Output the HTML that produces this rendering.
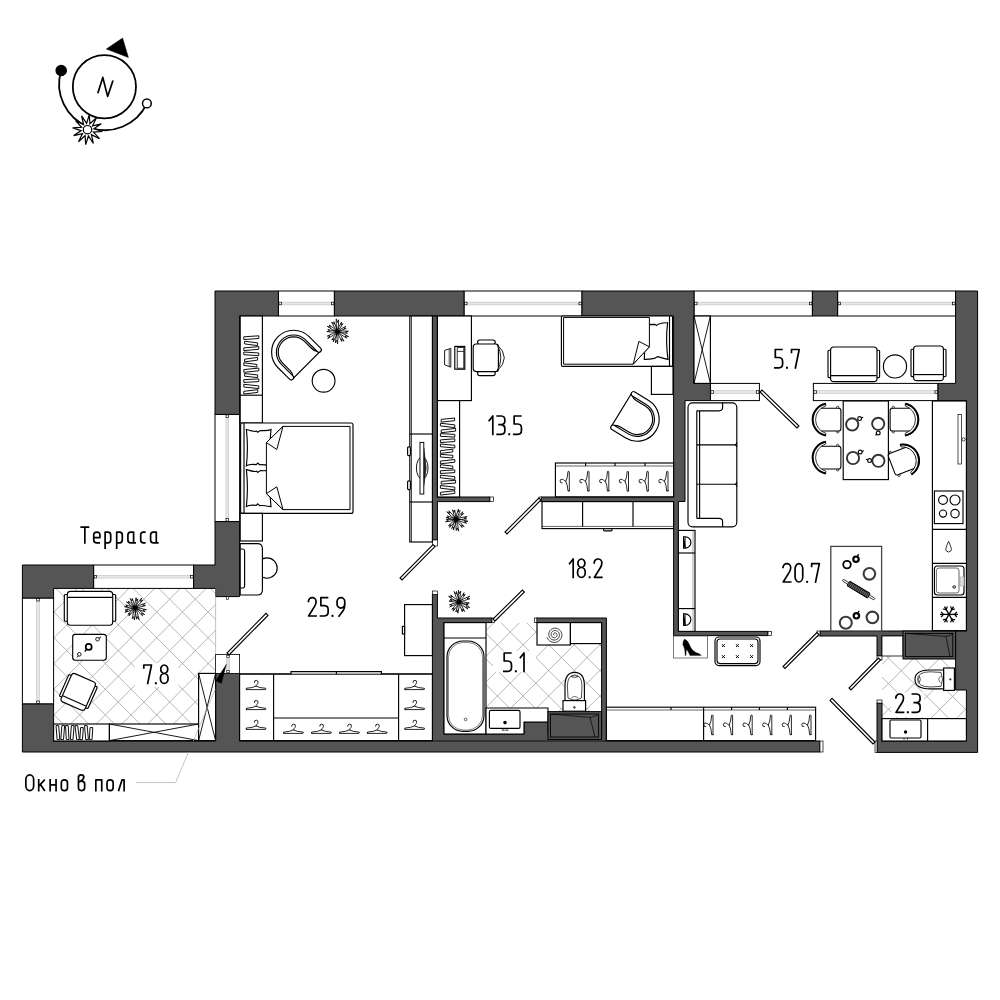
<!DOCTYPE html>
<html><head><meta charset="utf-8"><title>Plan</title>
<style>html,body{margin:0;padding:0;background:#fff;}body{width:1000px;height:1000px;overflow:hidden;}
svg{display:block;font-family:"Liberation Sans",sans-serif;}</style></head><body>
<svg width="1000" height="1000" viewBox="0 0 1000 1000">
<rect width="1000" height="1000" fill="#fff"/>
<clipPath id="t1"><rect x="53.6" y="588.4" width="162.0" height="152.6"/></clipPath>
<g clip-path="url(#t1)" stroke="#969696" stroke-width="0.7">
<line x1="-847.6" y1="588.4" x2="-1000.2" y2="741.0"/>
<line x1="-869.2" y1="588.4" x2="-716.6" y2="741.0"/>
<line x1="-821.9" y1="588.4" x2="-974.5" y2="741.0"/>
<line x1="-843.5" y1="588.4" x2="-690.9" y2="741.0"/>
<line x1="-796.2" y1="588.4" x2="-948.8" y2="741.0"/>
<line x1="-817.8" y1="588.4" x2="-665.2" y2="741.0"/>
<line x1="-770.5" y1="588.4" x2="-923.1" y2="741.0"/>
<line x1="-792.1" y1="588.4" x2="-639.5" y2="741.0"/>
<line x1="-744.8" y1="588.4" x2="-897.4" y2="741.0"/>
<line x1="-766.4" y1="588.4" x2="-613.8" y2="741.0"/>
<line x1="-719.1" y1="588.4" x2="-871.7" y2="741.0"/>
<line x1="-740.7" y1="588.4" x2="-588.1" y2="741.0"/>
<line x1="-693.4" y1="588.4" x2="-846.0" y2="741.0"/>
<line x1="-715.0" y1="588.4" x2="-562.4" y2="741.0"/>
<line x1="-667.7" y1="588.4" x2="-820.3" y2="741.0"/>
<line x1="-689.3" y1="588.4" x2="-536.7" y2="741.0"/>
<line x1="-642.0" y1="588.4" x2="-794.6" y2="741.0"/>
<line x1="-663.6" y1="588.4" x2="-511.0" y2="741.0"/>
<line x1="-616.3" y1="588.4" x2="-768.9" y2="741.0"/>
<line x1="-637.9" y1="588.4" x2="-485.3" y2="741.0"/>
<line x1="-590.6" y1="588.4" x2="-743.2" y2="741.0"/>
<line x1="-612.2" y1="588.4" x2="-459.6" y2="741.0"/>
<line x1="-564.9" y1="588.4" x2="-717.5" y2="741.0"/>
<line x1="-586.5" y1="588.4" x2="-433.9" y2="741.0"/>
<line x1="-539.2" y1="588.4" x2="-691.8" y2="741.0"/>
<line x1="-560.8" y1="588.4" x2="-408.2" y2="741.0"/>
<line x1="-513.5" y1="588.4" x2="-666.1" y2="741.0"/>
<line x1="-535.1" y1="588.4" x2="-382.5" y2="741.0"/>
<line x1="-487.8" y1="588.4" x2="-640.4" y2="741.0"/>
<line x1="-509.4" y1="588.4" x2="-356.8" y2="741.0"/>
<line x1="-462.1" y1="588.4" x2="-614.7" y2="741.0"/>
<line x1="-483.7" y1="588.4" x2="-331.1" y2="741.0"/>
<line x1="-436.4" y1="588.4" x2="-589.0" y2="741.0"/>
<line x1="-458.0" y1="588.4" x2="-305.4" y2="741.0"/>
<line x1="-410.7" y1="588.4" x2="-563.3" y2="741.0"/>
<line x1="-432.3" y1="588.4" x2="-279.7" y2="741.0"/>
<line x1="-385.0" y1="588.4" x2="-537.6" y2="741.0"/>
<line x1="-406.6" y1="588.4" x2="-254.0" y2="741.0"/>
<line x1="-359.3" y1="588.4" x2="-511.9" y2="741.0"/>
<line x1="-380.9" y1="588.4" x2="-228.3" y2="741.0"/>
<line x1="-333.6" y1="588.4" x2="-486.2" y2="741.0"/>
<line x1="-355.2" y1="588.4" x2="-202.6" y2="741.0"/>
<line x1="-307.9" y1="588.4" x2="-460.5" y2="741.0"/>
<line x1="-329.5" y1="588.4" x2="-176.9" y2="741.0"/>
<line x1="-282.2" y1="588.4" x2="-434.8" y2="741.0"/>
<line x1="-303.8" y1="588.4" x2="-151.2" y2="741.0"/>
<line x1="-256.5" y1="588.4" x2="-409.1" y2="741.0"/>
<line x1="-278.1" y1="588.4" x2="-125.5" y2="741.0"/>
<line x1="-230.8" y1="588.4" x2="-383.4" y2="741.0"/>
<line x1="-252.4" y1="588.4" x2="-99.8" y2="741.0"/>
<line x1="-205.1" y1="588.4" x2="-357.7" y2="741.0"/>
<line x1="-226.7" y1="588.4" x2="-74.1" y2="741.0"/>
<line x1="-179.4" y1="588.4" x2="-332.0" y2="741.0"/>
<line x1="-201.0" y1="588.4" x2="-48.4" y2="741.0"/>
<line x1="-153.7" y1="588.4" x2="-306.3" y2="741.0"/>
<line x1="-175.3" y1="588.4" x2="-22.7" y2="741.0"/>
<line x1="-128.0" y1="588.4" x2="-280.6" y2="741.0"/>
<line x1="-149.6" y1="588.4" x2="3.0" y2="741.0"/>
<line x1="-102.3" y1="588.4" x2="-254.9" y2="741.0"/>
<line x1="-123.9" y1="588.4" x2="28.7" y2="741.0"/>
<line x1="-76.6" y1="588.4" x2="-229.2" y2="741.0"/>
<line x1="-98.2" y1="588.4" x2="54.4" y2="741.0"/>
<line x1="-50.9" y1="588.4" x2="-203.5" y2="741.0"/>
<line x1="-72.5" y1="588.4" x2="80.1" y2="741.0"/>
<line x1="-25.2" y1="588.4" x2="-177.8" y2="741.0"/>
<line x1="-46.8" y1="588.4" x2="105.8" y2="741.0"/>
<line x1="0.5" y1="588.4" x2="-152.1" y2="741.0"/>
<line x1="-21.1" y1="588.4" x2="131.5" y2="741.0"/>
<line x1="26.2" y1="588.4" x2="-126.4" y2="741.0"/>
<line x1="4.6" y1="588.4" x2="157.2" y2="741.0"/>
<line x1="51.9" y1="588.4" x2="-100.7" y2="741.0"/>
<line x1="30.3" y1="588.4" x2="182.9" y2="741.0"/>
<line x1="77.6" y1="588.4" x2="-75.0" y2="741.0"/>
<line x1="56.0" y1="588.4" x2="208.6" y2="741.0"/>
<line x1="103.3" y1="588.4" x2="-49.3" y2="741.0"/>
<line x1="81.7" y1="588.4" x2="234.3" y2="741.0"/>
<line x1="129.0" y1="588.4" x2="-23.6" y2="741.0"/>
<line x1="107.4" y1="588.4" x2="260.0" y2="741.0"/>
<line x1="154.7" y1="588.4" x2="2.1" y2="741.0"/>
<line x1="133.1" y1="588.4" x2="285.7" y2="741.0"/>
<line x1="180.4" y1="588.4" x2="27.8" y2="741.0"/>
<line x1="158.8" y1="588.4" x2="311.4" y2="741.0"/>
<line x1="206.1" y1="588.4" x2="53.5" y2="741.0"/>
<line x1="184.5" y1="588.4" x2="337.1" y2="741.0"/>
<line x1="231.8" y1="588.4" x2="79.2" y2="741.0"/>
<line x1="210.2" y1="588.4" x2="362.8" y2="741.0"/>
<line x1="257.5" y1="588.4" x2="104.9" y2="741.0"/>
<line x1="235.9" y1="588.4" x2="388.5" y2="741.0"/>
<line x1="283.2" y1="588.4" x2="130.6" y2="741.0"/>
<line x1="261.6" y1="588.4" x2="414.2" y2="741.0"/>
<line x1="308.9" y1="588.4" x2="156.3" y2="741.0"/>
<line x1="287.3" y1="588.4" x2="439.9" y2="741.0"/>
<line x1="334.6" y1="588.4" x2="182.0" y2="741.0"/>
<line x1="313.0" y1="588.4" x2="465.6" y2="741.0"/>
<line x1="360.3" y1="588.4" x2="207.7" y2="741.0"/>
<line x1="338.7" y1="588.4" x2="491.3" y2="741.0"/>
<line x1="386.0" y1="588.4" x2="233.4" y2="741.0"/>
<line x1="364.4" y1="588.4" x2="517.0" y2="741.0"/>
<line x1="411.7" y1="588.4" x2="259.1" y2="741.0"/>
<line x1="390.1" y1="588.4" x2="542.7" y2="741.0"/>
<line x1="437.4" y1="588.4" x2="284.8" y2="741.0"/>
<line x1="415.8" y1="588.4" x2="568.4" y2="741.0"/>
<line x1="463.1" y1="588.4" x2="310.5" y2="741.0"/>
<line x1="441.5" y1="588.4" x2="594.1" y2="741.0"/>
<line x1="488.8" y1="588.4" x2="336.2" y2="741.0"/>
<line x1="467.2" y1="588.4" x2="619.8" y2="741.0"/>
<line x1="514.5" y1="588.4" x2="361.9" y2="741.0"/>
<line x1="492.9" y1="588.4" x2="645.5" y2="741.0"/>
<line x1="540.2" y1="588.4" x2="387.6" y2="741.0"/>
<line x1="518.6" y1="588.4" x2="671.2" y2="741.0"/>
<line x1="565.9" y1="588.4" x2="413.3" y2="741.0"/>
<line x1="544.3" y1="588.4" x2="696.9" y2="741.0"/>
<line x1="591.6" y1="588.4" x2="439.0" y2="741.0"/>
<line x1="570.0" y1="588.4" x2="722.6" y2="741.0"/>
<line x1="617.3" y1="588.4" x2="464.7" y2="741.0"/>
<line x1="595.7" y1="588.4" x2="748.3" y2="741.0"/>
<line x1="643.0" y1="588.4" x2="490.4" y2="741.0"/>
<line x1="621.4" y1="588.4" x2="774.0" y2="741.0"/>
<line x1="668.7" y1="588.4" x2="516.1" y2="741.0"/>
<line x1="647.1" y1="588.4" x2="799.7" y2="741.0"/>
<line x1="694.4" y1="588.4" x2="541.8" y2="741.0"/>
<line x1="672.8" y1="588.4" x2="825.4" y2="741.0"/>
<line x1="720.1" y1="588.4" x2="567.5" y2="741.0"/>
<line x1="698.5" y1="588.4" x2="851.1" y2="741.0"/>
<line x1="745.8" y1="588.4" x2="593.2" y2="741.0"/>
<line x1="724.2" y1="588.4" x2="876.8" y2="741.0"/>
<line x1="771.5" y1="588.4" x2="618.9" y2="741.0"/>
<line x1="749.9" y1="588.4" x2="902.5" y2="741.0"/>
<line x1="797.2" y1="588.4" x2="644.6" y2="741.0"/>
<line x1="775.6" y1="588.4" x2="928.2" y2="741.0"/>
<line x1="822.9" y1="588.4" x2="670.3" y2="741.0"/>
<line x1="801.3" y1="588.4" x2="953.9" y2="741.0"/>
<line x1="848.6" y1="588.4" x2="696.0" y2="741.0"/>
<line x1="827.0" y1="588.4" x2="979.6" y2="741.0"/>
<line x1="874.3" y1="588.4" x2="721.7" y2="741.0"/>
<line x1="852.7" y1="588.4" x2="1005.3" y2="741.0"/>
<line x1="900.0" y1="588.4" x2="747.4" y2="741.0"/>
<line x1="878.4" y1="588.4" x2="1031.0" y2="741.0"/>
<line x1="925.7" y1="588.4" x2="773.1" y2="741.0"/>
<line x1="904.1" y1="588.4" x2="1056.7" y2="741.0"/>
<line x1="951.4" y1="588.4" x2="798.8" y2="741.0"/>
<line x1="929.8" y1="588.4" x2="1082.4" y2="741.0"/>
<line x1="977.1" y1="588.4" x2="824.5" y2="741.0"/>
<line x1="955.5" y1="588.4" x2="1108.1" y2="741.0"/>
<line x1="1002.8" y1="588.4" x2="850.2" y2="741.0"/>
<line x1="981.2" y1="588.4" x2="1133.8" y2="741.0"/>
<line x1="1028.5" y1="588.4" x2="875.9" y2="741.0"/>
<line x1="1006.9" y1="588.4" x2="1159.5" y2="741.0"/>
<line x1="1054.2" y1="588.4" x2="901.6" y2="741.0"/>
<line x1="1032.6" y1="588.4" x2="1185.2" y2="741.0"/>
<line x1="1079.9" y1="588.4" x2="927.3" y2="741.0"/>
<line x1="1058.3" y1="588.4" x2="1210.9" y2="741.0"/>
<line x1="1105.6" y1="588.4" x2="953.0" y2="741.0"/>
<line x1="1084.0" y1="588.4" x2="1236.6" y2="741.0"/>
<line x1="1131.3" y1="588.4" x2="978.7" y2="741.0"/>
<line x1="1109.7" y1="588.4" x2="1262.3" y2="741.0"/>
<line x1="1157.0" y1="588.4" x2="1004.4" y2="741.0"/>
<line x1="1135.4" y1="588.4" x2="1288.0" y2="741.0"/>
<line x1="1182.7" y1="588.4" x2="1030.1" y2="741.0"/>
<line x1="1161.1" y1="588.4" x2="1313.7" y2="741.0"/>
<rect x="135.0" y="663.0" width="43.0" height="24.0" fill="#fff" stroke="none"/>
</g>
<clipPath id="t2"><rect x="486.0" y="622.6" width="115.6" height="111.4"/></clipPath>
<g clip-path="url(#t2)" stroke="#969696" stroke-width="0.7">
<line x1="-427.6" y1="622.6" x2="-539.0" y2="734.0"/>
<line x1="-497.6" y1="622.6" x2="-386.2" y2="734.0"/>
<line x1="-402.0" y1="622.6" x2="-513.4" y2="734.0"/>
<line x1="-472.0" y1="622.6" x2="-360.6" y2="734.0"/>
<line x1="-376.4" y1="622.6" x2="-487.8" y2="734.0"/>
<line x1="-446.4" y1="622.6" x2="-335.0" y2="734.0"/>
<line x1="-350.8" y1="622.6" x2="-462.2" y2="734.0"/>
<line x1="-420.8" y1="622.6" x2="-309.4" y2="734.0"/>
<line x1="-325.2" y1="622.6" x2="-436.6" y2="734.0"/>
<line x1="-395.2" y1="622.6" x2="-283.8" y2="734.0"/>
<line x1="-299.6" y1="622.6" x2="-411.0" y2="734.0"/>
<line x1="-369.6" y1="622.6" x2="-258.2" y2="734.0"/>
<line x1="-274.0" y1="622.6" x2="-385.4" y2="734.0"/>
<line x1="-344.0" y1="622.6" x2="-232.6" y2="734.0"/>
<line x1="-248.4" y1="622.6" x2="-359.8" y2="734.0"/>
<line x1="-318.4" y1="622.6" x2="-207.0" y2="734.0"/>
<line x1="-222.8" y1="622.6" x2="-334.2" y2="734.0"/>
<line x1="-292.8" y1="622.6" x2="-181.4" y2="734.0"/>
<line x1="-197.2" y1="622.6" x2="-308.6" y2="734.0"/>
<line x1="-267.2" y1="622.6" x2="-155.8" y2="734.0"/>
<line x1="-171.6" y1="622.6" x2="-283.0" y2="734.0"/>
<line x1="-241.6" y1="622.6" x2="-130.2" y2="734.0"/>
<line x1="-146.0" y1="622.6" x2="-257.4" y2="734.0"/>
<line x1="-216.0" y1="622.6" x2="-104.6" y2="734.0"/>
<line x1="-120.4" y1="622.6" x2="-231.8" y2="734.0"/>
<line x1="-190.4" y1="622.6" x2="-79.0" y2="734.0"/>
<line x1="-94.8" y1="622.6" x2="-206.2" y2="734.0"/>
<line x1="-164.8" y1="622.6" x2="-53.4" y2="734.0"/>
<line x1="-69.2" y1="622.6" x2="-180.6" y2="734.0"/>
<line x1="-139.2" y1="622.6" x2="-27.8" y2="734.0"/>
<line x1="-43.6" y1="622.6" x2="-155.0" y2="734.0"/>
<line x1="-113.6" y1="622.6" x2="-2.2" y2="734.0"/>
<line x1="-18.0" y1="622.6" x2="-129.4" y2="734.0"/>
<line x1="-88.0" y1="622.6" x2="23.4" y2="734.0"/>
<line x1="7.6" y1="622.6" x2="-103.8" y2="734.0"/>
<line x1="-62.4" y1="622.6" x2="49.0" y2="734.0"/>
<line x1="33.2" y1="622.6" x2="-78.2" y2="734.0"/>
<line x1="-36.8" y1="622.6" x2="74.6" y2="734.0"/>
<line x1="58.8" y1="622.6" x2="-52.6" y2="734.0"/>
<line x1="-11.2" y1="622.6" x2="100.2" y2="734.0"/>
<line x1="84.4" y1="622.6" x2="-27.0" y2="734.0"/>
<line x1="14.4" y1="622.6" x2="125.8" y2="734.0"/>
<line x1="110.0" y1="622.6" x2="-1.4" y2="734.0"/>
<line x1="40.0" y1="622.6" x2="151.4" y2="734.0"/>
<line x1="135.6" y1="622.6" x2="24.2" y2="734.0"/>
<line x1="65.6" y1="622.6" x2="177.0" y2="734.0"/>
<line x1="161.2" y1="622.6" x2="49.8" y2="734.0"/>
<line x1="91.2" y1="622.6" x2="202.6" y2="734.0"/>
<line x1="186.8" y1="622.6" x2="75.4" y2="734.0"/>
<line x1="116.8" y1="622.6" x2="228.2" y2="734.0"/>
<line x1="212.4" y1="622.6" x2="101.0" y2="734.0"/>
<line x1="142.4" y1="622.6" x2="253.8" y2="734.0"/>
<line x1="238.0" y1="622.6" x2="126.6" y2="734.0"/>
<line x1="168.0" y1="622.6" x2="279.4" y2="734.0"/>
<line x1="263.6" y1="622.6" x2="152.2" y2="734.0"/>
<line x1="193.6" y1="622.6" x2="305.0" y2="734.0"/>
<line x1="289.2" y1="622.6" x2="177.8" y2="734.0"/>
<line x1="219.2" y1="622.6" x2="330.6" y2="734.0"/>
<line x1="314.8" y1="622.6" x2="203.4" y2="734.0"/>
<line x1="244.8" y1="622.6" x2="356.2" y2="734.0"/>
<line x1="340.4" y1="622.6" x2="229.0" y2="734.0"/>
<line x1="270.4" y1="622.6" x2="381.8" y2="734.0"/>
<line x1="366.0" y1="622.6" x2="254.6" y2="734.0"/>
<line x1="296.0" y1="622.6" x2="407.4" y2="734.0"/>
<line x1="391.6" y1="622.6" x2="280.2" y2="734.0"/>
<line x1="321.6" y1="622.6" x2="433.0" y2="734.0"/>
<line x1="417.2" y1="622.6" x2="305.8" y2="734.0"/>
<line x1="347.2" y1="622.6" x2="458.6" y2="734.0"/>
<line x1="442.8" y1="622.6" x2="331.4" y2="734.0"/>
<line x1="372.8" y1="622.6" x2="484.2" y2="734.0"/>
<line x1="468.4" y1="622.6" x2="357.0" y2="734.0"/>
<line x1="398.4" y1="622.6" x2="509.8" y2="734.0"/>
<line x1="494.0" y1="622.6" x2="382.6" y2="734.0"/>
<line x1="424.0" y1="622.6" x2="535.4" y2="734.0"/>
<line x1="519.6" y1="622.6" x2="408.2" y2="734.0"/>
<line x1="449.6" y1="622.6" x2="561.0" y2="734.0"/>
<line x1="545.2" y1="622.6" x2="433.8" y2="734.0"/>
<line x1="475.2" y1="622.6" x2="586.6" y2="734.0"/>
<line x1="570.8" y1="622.6" x2="459.4" y2="734.0"/>
<line x1="500.8" y1="622.6" x2="612.2" y2="734.0"/>
<line x1="596.4" y1="622.6" x2="485.0" y2="734.0"/>
<line x1="526.4" y1="622.6" x2="637.8" y2="734.0"/>
<line x1="622.0" y1="622.6" x2="510.6" y2="734.0"/>
<line x1="552.0" y1="622.6" x2="663.4" y2="734.0"/>
<line x1="647.6" y1="622.6" x2="536.2" y2="734.0"/>
<line x1="577.6" y1="622.6" x2="689.0" y2="734.0"/>
<line x1="673.2" y1="622.6" x2="561.8" y2="734.0"/>
<line x1="603.2" y1="622.6" x2="714.6" y2="734.0"/>
<line x1="698.8" y1="622.6" x2="587.4" y2="734.0"/>
<line x1="628.8" y1="622.6" x2="740.2" y2="734.0"/>
<line x1="724.4" y1="622.6" x2="613.0" y2="734.0"/>
<line x1="654.4" y1="622.6" x2="765.8" y2="734.0"/>
<line x1="750.0" y1="622.6" x2="638.6" y2="734.0"/>
<line x1="680.0" y1="622.6" x2="791.4" y2="734.0"/>
<line x1="775.6" y1="622.6" x2="664.2" y2="734.0"/>
<line x1="705.6" y1="622.6" x2="817.0" y2="734.0"/>
<line x1="801.2" y1="622.6" x2="689.8" y2="734.0"/>
<line x1="731.2" y1="622.6" x2="842.6" y2="734.0"/>
<line x1="826.8" y1="622.6" x2="715.4" y2="734.0"/>
<line x1="756.8" y1="622.6" x2="868.2" y2="734.0"/>
<line x1="852.4" y1="622.6" x2="741.0" y2="734.0"/>
<line x1="782.4" y1="622.6" x2="893.8" y2="734.0"/>
<line x1="878.0" y1="622.6" x2="766.6" y2="734.0"/>
<line x1="808.0" y1="622.6" x2="919.4" y2="734.0"/>
<line x1="903.6" y1="622.6" x2="792.2" y2="734.0"/>
<line x1="833.6" y1="622.6" x2="945.0" y2="734.0"/>
<line x1="929.2" y1="622.6" x2="817.8" y2="734.0"/>
<line x1="859.2" y1="622.6" x2="970.6" y2="734.0"/>
<line x1="954.8" y1="622.6" x2="843.4" y2="734.0"/>
<line x1="884.8" y1="622.6" x2="996.2" y2="734.0"/>
<line x1="980.4" y1="622.6" x2="869.0" y2="734.0"/>
<line x1="910.4" y1="622.6" x2="1021.8" y2="734.0"/>
<line x1="1006.0" y1="622.6" x2="894.6" y2="734.0"/>
<line x1="936.0" y1="622.6" x2="1047.4" y2="734.0"/>
<line x1="1031.6" y1="622.6" x2="920.2" y2="734.0"/>
<line x1="961.6" y1="622.6" x2="1073.0" y2="734.0"/>
<line x1="1057.2" y1="622.6" x2="945.8" y2="734.0"/>
<line x1="987.2" y1="622.6" x2="1098.6" y2="734.0"/>
<line x1="1082.8" y1="622.6" x2="971.4" y2="734.0"/>
<line x1="1012.8" y1="622.6" x2="1124.2" y2="734.0"/>
<line x1="1108.4" y1="622.6" x2="997.0" y2="734.0"/>
<line x1="1038.4" y1="622.6" x2="1149.8" y2="734.0"/>
<line x1="1134.0" y1="622.6" x2="1022.6" y2="734.0"/>
<line x1="1064.0" y1="622.6" x2="1175.4" y2="734.0"/>
<line x1="1159.6" y1="622.6" x2="1048.2" y2="734.0"/>
<line x1="1089.6" y1="622.6" x2="1201.0" y2="734.0"/>
<line x1="1185.2" y1="622.6" x2="1073.8" y2="734.0"/>
<line x1="1115.2" y1="622.6" x2="1226.6" y2="734.0"/>
<line x1="1210.8" y1="622.6" x2="1099.4" y2="734.0"/>
<line x1="1140.8" y1="622.6" x2="1252.2" y2="734.0"/>
<line x1="1236.4" y1="622.6" x2="1125.0" y2="734.0"/>
<line x1="1166.4" y1="622.6" x2="1277.8" y2="734.0"/>
<line x1="1262.0" y1="622.6" x2="1150.6" y2="734.0"/>
<line x1="1192.0" y1="622.6" x2="1303.4" y2="734.0"/>
<line x1="1287.6" y1="622.6" x2="1176.2" y2="734.0"/>
<line x1="1217.6" y1="622.6" x2="1329.0" y2="734.0"/>
<line x1="1313.2" y1="622.6" x2="1201.8" y2="734.0"/>
<line x1="1243.2" y1="622.6" x2="1354.6" y2="734.0"/>
<line x1="1338.8" y1="622.6" x2="1227.4" y2="734.0"/>
<line x1="1268.8" y1="622.6" x2="1380.2" y2="734.0"/>
<line x1="1364.4" y1="622.6" x2="1253.0" y2="734.0"/>
<line x1="1294.4" y1="622.6" x2="1405.8" y2="734.0"/>
<line x1="1390.0" y1="622.6" x2="1278.6" y2="734.0"/>
<line x1="1320.0" y1="622.6" x2="1431.4" y2="734.0"/>
<line x1="1415.6" y1="622.6" x2="1304.2" y2="734.0"/>
<line x1="1345.6" y1="622.6" x2="1457.0" y2="734.0"/>
<line x1="1441.2" y1="622.6" x2="1329.8" y2="734.0"/>
<line x1="1371.2" y1="622.6" x2="1482.6" y2="734.0"/>
<line x1="1466.8" y1="622.6" x2="1355.4" y2="734.0"/>
<line x1="1396.8" y1="622.6" x2="1508.2" y2="734.0"/>
<line x1="1492.4" y1="622.6" x2="1381.0" y2="734.0"/>
<line x1="1422.4" y1="622.6" x2="1533.8" y2="734.0"/>
<line x1="1518.0" y1="622.6" x2="1406.6" y2="734.0"/>
<line x1="1448.0" y1="622.6" x2="1559.4" y2="734.0"/>
<line x1="1543.6" y1="622.6" x2="1432.2" y2="734.0"/>
<line x1="1473.6" y1="622.6" x2="1585.0" y2="734.0"/>
<line x1="1569.2" y1="622.6" x2="1457.8" y2="734.0"/>
<line x1="1499.2" y1="622.6" x2="1610.6" y2="734.0"/>
<line x1="1594.8" y1="622.6" x2="1483.4" y2="734.0"/>
<line x1="1524.8" y1="622.6" x2="1636.2" y2="734.0"/>
<rect x="493.0" y="651.0" width="43.0" height="21.0" fill="#fff" stroke="none"/>
</g>
<clipPath id="t3"><rect x="882.0" y="636.0" width="84.4" height="105.0"/></clipPath>
<g clip-path="url(#t3)" stroke="#969696" stroke-width="0.7">
<line x1="-90.7" y1="636.0" x2="-195.7" y2="741.0"/>
<line x1="-160.3" y1="636.0" x2="-55.3" y2="741.0"/>
<line x1="-65.0" y1="636.0" x2="-170.0" y2="741.0"/>
<line x1="-134.6" y1="636.0" x2="-29.6" y2="741.0"/>
<line x1="-39.4" y1="636.0" x2="-144.4" y2="741.0"/>
<line x1="-109.0" y1="636.0" x2="-4.0" y2="741.0"/>
<line x1="-13.7" y1="636.0" x2="-118.7" y2="741.0"/>
<line x1="-83.3" y1="636.0" x2="21.7" y2="741.0"/>
<line x1="12.0" y1="636.0" x2="-93.0" y2="741.0"/>
<line x1="-57.6" y1="636.0" x2="47.4" y2="741.0"/>
<line x1="37.6" y1="636.0" x2="-67.4" y2="741.0"/>
<line x1="-32.0" y1="636.0" x2="73.0" y2="741.0"/>
<line x1="63.3" y1="636.0" x2="-41.7" y2="741.0"/>
<line x1="-6.3" y1="636.0" x2="98.7" y2="741.0"/>
<line x1="89.0" y1="636.0" x2="-16.0" y2="741.0"/>
<line x1="19.4" y1="636.0" x2="124.4" y2="741.0"/>
<line x1="114.7" y1="636.0" x2="9.7" y2="741.0"/>
<line x1="45.1" y1="636.0" x2="150.1" y2="741.0"/>
<line x1="140.3" y1="636.0" x2="35.3" y2="741.0"/>
<line x1="70.7" y1="636.0" x2="175.7" y2="741.0"/>
<line x1="166.0" y1="636.0" x2="61.0" y2="741.0"/>
<line x1="96.4" y1="636.0" x2="201.4" y2="741.0"/>
<line x1="191.7" y1="636.0" x2="86.7" y2="741.0"/>
<line x1="122.1" y1="636.0" x2="227.1" y2="741.0"/>
<line x1="217.3" y1="636.0" x2="112.3" y2="741.0"/>
<line x1="147.7" y1="636.0" x2="252.7" y2="741.0"/>
<line x1="243.0" y1="636.0" x2="138.0" y2="741.0"/>
<line x1="173.4" y1="636.0" x2="278.4" y2="741.0"/>
<line x1="268.7" y1="636.0" x2="163.7" y2="741.0"/>
<line x1="199.1" y1="636.0" x2="304.1" y2="741.0"/>
<line x1="294.3" y1="636.0" x2="189.3" y2="741.0"/>
<line x1="224.8" y1="636.0" x2="329.8" y2="741.0"/>
<line x1="320.0" y1="636.0" x2="215.0" y2="741.0"/>
<line x1="250.4" y1="636.0" x2="355.4" y2="741.0"/>
<line x1="345.7" y1="636.0" x2="240.7" y2="741.0"/>
<line x1="276.1" y1="636.0" x2="381.1" y2="741.0"/>
<line x1="371.4" y1="636.0" x2="266.4" y2="741.0"/>
<line x1="301.8" y1="636.0" x2="406.8" y2="741.0"/>
<line x1="397.0" y1="636.0" x2="292.0" y2="741.0"/>
<line x1="327.4" y1="636.0" x2="432.4" y2="741.0"/>
<line x1="422.7" y1="636.0" x2="317.7" y2="741.0"/>
<line x1="353.1" y1="636.0" x2="458.1" y2="741.0"/>
<line x1="448.4" y1="636.0" x2="343.4" y2="741.0"/>
<line x1="378.8" y1="636.0" x2="483.8" y2="741.0"/>
<line x1="474.0" y1="636.0" x2="369.0" y2="741.0"/>
<line x1="404.4" y1="636.0" x2="509.4" y2="741.0"/>
<line x1="499.7" y1="636.0" x2="394.7" y2="741.0"/>
<line x1="430.1" y1="636.0" x2="535.1" y2="741.0"/>
<line x1="525.4" y1="636.0" x2="420.4" y2="741.0"/>
<line x1="455.8" y1="636.0" x2="560.8" y2="741.0"/>
<line x1="551.0" y1="636.0" x2="446.0" y2="741.0"/>
<line x1="481.4" y1="636.0" x2="586.5" y2="741.0"/>
<line x1="576.7" y1="636.0" x2="471.7" y2="741.0"/>
<line x1="507.1" y1="636.0" x2="612.1" y2="741.0"/>
<line x1="602.4" y1="636.0" x2="497.4" y2="741.0"/>
<line x1="532.8" y1="636.0" x2="637.8" y2="741.0"/>
<line x1="628.1" y1="636.0" x2="523.1" y2="741.0"/>
<line x1="558.5" y1="636.0" x2="663.5" y2="741.0"/>
<line x1="653.7" y1="636.0" x2="548.7" y2="741.0"/>
<line x1="584.1" y1="636.0" x2="689.1" y2="741.0"/>
<line x1="679.4" y1="636.0" x2="574.4" y2="741.0"/>
<line x1="609.8" y1="636.0" x2="714.8" y2="741.0"/>
<line x1="705.1" y1="636.0" x2="600.1" y2="741.0"/>
<line x1="635.5" y1="636.0" x2="740.5" y2="741.0"/>
<line x1="730.7" y1="636.0" x2="625.7" y2="741.0"/>
<line x1="661.1" y1="636.0" x2="766.1" y2="741.0"/>
<line x1="756.4" y1="636.0" x2="651.4" y2="741.0"/>
<line x1="686.8" y1="636.0" x2="791.8" y2="741.0"/>
<line x1="782.1" y1="636.0" x2="677.1" y2="741.0"/>
<line x1="712.5" y1="636.0" x2="817.5" y2="741.0"/>
<line x1="807.8" y1="636.0" x2="702.8" y2="741.0"/>
<line x1="738.1" y1="636.0" x2="843.1" y2="741.0"/>
<line x1="833.4" y1="636.0" x2="728.4" y2="741.0"/>
<line x1="763.8" y1="636.0" x2="868.8" y2="741.0"/>
<line x1="859.1" y1="636.0" x2="754.1" y2="741.0"/>
<line x1="789.5" y1="636.0" x2="894.5" y2="741.0"/>
<line x1="884.8" y1="636.0" x2="779.8" y2="741.0"/>
<line x1="815.2" y1="636.0" x2="920.2" y2="741.0"/>
<line x1="910.4" y1="636.0" x2="805.4" y2="741.0"/>
<line x1="840.8" y1="636.0" x2="945.8" y2="741.0"/>
<line x1="936.1" y1="636.0" x2="831.1" y2="741.0"/>
<line x1="866.5" y1="636.0" x2="971.5" y2="741.0"/>
<line x1="961.8" y1="636.0" x2="856.8" y2="741.0"/>
<line x1="892.2" y1="636.0" x2="997.2" y2="741.0"/>
<line x1="987.4" y1="636.0" x2="882.4" y2="741.0"/>
<line x1="917.8" y1="636.0" x2="1022.8" y2="741.0"/>
<line x1="1013.1" y1="636.0" x2="908.1" y2="741.0"/>
<line x1="943.5" y1="636.0" x2="1048.5" y2="741.0"/>
<line x1="1038.8" y1="636.0" x2="933.8" y2="741.0"/>
<line x1="969.2" y1="636.0" x2="1074.2" y2="741.0"/>
<line x1="1064.4" y1="636.0" x2="959.4" y2="741.0"/>
<line x1="994.9" y1="636.0" x2="1099.8" y2="741.0"/>
<line x1="1090.1" y1="636.0" x2="985.1" y2="741.0"/>
<line x1="1020.5" y1="636.0" x2="1125.5" y2="741.0"/>
<line x1="1115.8" y1="636.0" x2="1010.8" y2="741.0"/>
<line x1="1046.2" y1="636.0" x2="1151.2" y2="741.0"/>
<line x1="1141.5" y1="636.0" x2="1036.5" y2="741.0"/>
<line x1="1071.9" y1="636.0" x2="1176.9" y2="741.0"/>
<line x1="1167.1" y1="636.0" x2="1062.1" y2="741.0"/>
<line x1="1097.5" y1="636.0" x2="1202.5" y2="741.0"/>
<line x1="1192.8" y1="636.0" x2="1087.8" y2="741.0"/>
<line x1="1123.2" y1="636.0" x2="1228.2" y2="741.0"/>
<line x1="1218.5" y1="636.0" x2="1113.5" y2="741.0"/>
<line x1="1148.9" y1="636.0" x2="1253.9" y2="741.0"/>
<line x1="1244.1" y1="636.0" x2="1139.1" y2="741.0"/>
<line x1="1174.5" y1="636.0" x2="1279.5" y2="741.0"/>
<line x1="1269.8" y1="636.0" x2="1164.8" y2="741.0"/>
<line x1="1200.2" y1="636.0" x2="1305.2" y2="741.0"/>
<line x1="1295.5" y1="636.0" x2="1190.5" y2="741.0"/>
<line x1="1225.9" y1="636.0" x2="1330.9" y2="741.0"/>
<line x1="1321.1" y1="636.0" x2="1216.1" y2="741.0"/>
<line x1="1251.5" y1="636.0" x2="1356.5" y2="741.0"/>
<line x1="1346.8" y1="636.0" x2="1241.8" y2="741.0"/>
<line x1="1277.2" y1="636.0" x2="1382.2" y2="741.0"/>
<line x1="1372.5" y1="636.0" x2="1267.5" y2="741.0"/>
<line x1="1302.9" y1="636.0" x2="1407.9" y2="741.0"/>
<line x1="1398.2" y1="636.0" x2="1293.2" y2="741.0"/>
<line x1="1328.6" y1="636.0" x2="1433.6" y2="741.0"/>
<line x1="1423.8" y1="636.0" x2="1318.8" y2="741.0"/>
<line x1="1354.2" y1="636.0" x2="1459.2" y2="741.0"/>
<line x1="1449.5" y1="636.0" x2="1344.5" y2="741.0"/>
<line x1="1379.9" y1="636.0" x2="1484.9" y2="741.0"/>
<line x1="1475.2" y1="636.0" x2="1370.2" y2="741.0"/>
<line x1="1405.6" y1="636.0" x2="1510.6" y2="741.0"/>
<line x1="1500.8" y1="636.0" x2="1395.8" y2="741.0"/>
<line x1="1431.2" y1="636.0" x2="1536.2" y2="741.0"/>
<line x1="1526.5" y1="636.0" x2="1421.5" y2="741.0"/>
<line x1="1456.9" y1="636.0" x2="1561.9" y2="741.0"/>
<line x1="1552.2" y1="636.0" x2="1447.2" y2="741.0"/>
<line x1="1482.6" y1="636.0" x2="1587.6" y2="741.0"/>
<line x1="1577.8" y1="636.0" x2="1472.8" y2="741.0"/>
<line x1="1508.2" y1="636.0" x2="1613.2" y2="741.0"/>
<line x1="1603.5" y1="636.0" x2="1498.5" y2="741.0"/>
<line x1="1533.9" y1="636.0" x2="1638.9" y2="741.0"/>
<line x1="1629.2" y1="636.0" x2="1524.2" y2="741.0"/>
<line x1="1559.6" y1="636.0" x2="1664.6" y2="741.0"/>
<line x1="1654.9" y1="636.0" x2="1549.9" y2="741.0"/>
<line x1="1585.3" y1="636.0" x2="1690.3" y2="741.0"/>
<line x1="1680.5" y1="636.0" x2="1575.5" y2="741.0"/>
<line x1="1610.9" y1="636.0" x2="1715.9" y2="741.0"/>
<line x1="1706.2" y1="636.0" x2="1601.2" y2="741.0"/>
<line x1="1636.6" y1="636.0" x2="1741.6" y2="741.0"/>
<line x1="1731.9" y1="636.0" x2="1626.9" y2="741.0"/>
<line x1="1662.3" y1="636.0" x2="1767.3" y2="741.0"/>
<line x1="1757.5" y1="636.0" x2="1652.5" y2="741.0"/>
<line x1="1687.9" y1="636.0" x2="1792.9" y2="741.0"/>
<line x1="1783.2" y1="636.0" x2="1678.2" y2="741.0"/>
<line x1="1713.6" y1="636.0" x2="1818.6" y2="741.0"/>
<line x1="1808.9" y1="636.0" x2="1703.9" y2="741.0"/>
<line x1="1739.3" y1="636.0" x2="1844.3" y2="741.0"/>
<line x1="1834.6" y1="636.0" x2="1729.6" y2="741.0"/>
<line x1="1765.0" y1="636.0" x2="1870.0" y2="741.0"/>
<line x1="1860.2" y1="636.0" x2="1755.2" y2="741.0"/>
<line x1="1790.6" y1="636.0" x2="1895.6" y2="741.0"/>
<line x1="1885.9" y1="636.0" x2="1780.9" y2="741.0"/>
<line x1="1816.3" y1="636.0" x2="1921.3" y2="741.0"/>
<line x1="1911.6" y1="636.0" x2="1806.6" y2="741.0"/>
<line x1="1842.0" y1="636.0" x2="1947.0" y2="741.0"/>
<line x1="1937.2" y1="636.0" x2="1832.2" y2="741.0"/>
<line x1="1867.6" y1="636.0" x2="1972.6" y2="741.0"/>
<rect x="891.0" y="692.5" width="33.0" height="24.5" fill="#fff" stroke="none"/>
</g>
<rect x="278.4" y="291.0" width="56.0" height="25.0" rx="0" fill="#fff" stroke="#000" stroke-width="1.0" />
<rect x="281.4" y="302.1" width="50.0" height="2.8" rx="0" fill="#e6e6e6" stroke="#c4c4c4" stroke-width="0.6" />
<rect x="278.9" y="302.2" width="2.5" height="2.6" rx="0" fill="#fff" stroke="#000" stroke-width="0.7" />
<rect x="331.4" y="302.2" width="2.5" height="2.6" rx="0" fill="#fff" stroke="#000" stroke-width="0.7" />
<rect x="464.0" y="291.0" width="118.0" height="25.0" rx="0" fill="#fff" stroke="#000" stroke-width="1.0" />
<rect x="467.0" y="302.1" width="112.0" height="2.8" rx="0" fill="#e6e6e6" stroke="#c4c4c4" stroke-width="0.6" />
<rect x="464.5" y="302.2" width="2.5" height="2.6" rx="0" fill="#fff" stroke="#000" stroke-width="0.7" />
<rect x="579.0" y="302.2" width="2.5" height="2.6" rx="0" fill="#fff" stroke="#000" stroke-width="0.7" />
<rect x="694.0" y="291.0" width="118.4" height="25.0" rx="0" fill="#fff" stroke="#000" stroke-width="1.0" />
<rect x="697.0" y="302.1" width="112.4" height="2.8" rx="0" fill="#e6e6e6" stroke="#c4c4c4" stroke-width="0.6" />
<rect x="694.5" y="302.2" width="2.5" height="2.6" rx="0" fill="#fff" stroke="#000" stroke-width="0.7" />
<rect x="809.4" y="302.2" width="2.5" height="2.6" rx="0" fill="#fff" stroke="#000" stroke-width="0.7" />
<rect x="837.6" y="291.0" width="118.0" height="25.0" rx="0" fill="#fff" stroke="#000" stroke-width="1.0" />
<rect x="840.6" y="302.1" width="112.0" height="2.8" rx="0" fill="#e6e6e6" stroke="#c4c4c4" stroke-width="0.6" />
<rect x="838.1" y="302.2" width="2.5" height="2.6" rx="0" fill="#fff" stroke="#000" stroke-width="0.7" />
<rect x="952.6" y="302.2" width="2.5" height="2.6" rx="0" fill="#fff" stroke="#000" stroke-width="0.7" />
<rect x="215.0" y="414.4" width="24.6" height="107.2" rx="0" fill="#fff" stroke="#000" stroke-width="1.0" />
<rect x="225.9" y="417.4" width="2.8" height="101.2" rx="0" fill="#e6e6e6" stroke="#c4c4c4" stroke-width="0.6" />
<rect x="226.0" y="414.9" width="2.6" height="2.5" rx="0" fill="#fff" stroke="#000" stroke-width="0.7" />
<rect x="226.0" y="518.6" width="2.6" height="2.5" rx="0" fill="#fff" stroke="#000" stroke-width="0.7" />
<rect x="93.6" y="565.0" width="100.0" height="23.4" rx="0" fill="#fff" stroke="#000" stroke-width="1.0" />
<rect x="96.6" y="575.3" width="94.0" height="2.8" rx="0" fill="#e6e6e6" stroke="#c4c4c4" stroke-width="0.6" />
<rect x="94.1" y="575.4" width="2.5" height="2.6" rx="0" fill="#fff" stroke="#000" stroke-width="0.7" />
<rect x="190.6" y="575.4" width="2.5" height="2.6" rx="0" fill="#fff" stroke="#000" stroke-width="0.7" />
<rect x="22.4" y="598.0" width="31.2" height="106.0" rx="0" fill="#fff" stroke="#000" stroke-width="1.0" />
<rect x="36.6" y="601.0" width="2.8" height="100.0" rx="0" fill="#e6e6e6" stroke="#c4c4c4" stroke-width="0.6" />
<rect x="36.7" y="598.5" width="2.6" height="2.5" rx="0" fill="#fff" stroke="#000" stroke-width="0.7" />
<rect x="36.7" y="701.0" width="2.6" height="2.5" rx="0" fill="#fff" stroke="#000" stroke-width="0.7" />
<rect x="710.4" y="383.4" width="49.0" height="17.2" rx="0" fill="#fff" stroke="#000" stroke-width="1.0" />
<rect x="713.4" y="390.6" width="43.0" height="2.8" rx="0" fill="#e6e6e6" stroke="#c4c4c4" stroke-width="0.6" />
<rect x="710.9" y="390.7" width="2.5" height="2.6" rx="0" fill="#fff" stroke="#000" stroke-width="0.7" />
<rect x="756.4" y="390.7" width="2.5" height="2.6" rx="0" fill="#fff" stroke="#000" stroke-width="0.7" />
<rect x="813.4" y="383.4" width="124.6" height="17.2" rx="0" fill="#fff" stroke="#000" stroke-width="1.0" />
<rect x="816.4" y="390.6" width="118.6" height="2.8" rx="0" fill="#e6e6e6" stroke="#c4c4c4" stroke-width="0.6" />
<rect x="813.9" y="390.7" width="2.5" height="2.6" rx="0" fill="#fff" stroke="#000" stroke-width="0.7" />
<rect x="935.0" y="390.7" width="2.5" height="2.6" rx="0" fill="#fff" stroke="#000" stroke-width="0.7" />
<polygon points="215.0,291.0 278.4,291.0 278.4,316.0 239.6,316.0 239.6,414.4 215.0,414.4" fill="#555" stroke="#000" stroke-width="1" />
<polygon points="334.4,291.0 464.0,291.0 464.0,316.0 334.4,316.0" fill="#555" stroke="#000" stroke-width="1" />
<polygon points="582.0,291.0 694.0,291.0 694.0,383.4 710.4,383.4 710.4,400.6 685.0,400.6 685.0,501.5 678.4,501.5 678.4,631.4 768.0,631.4 768.0,635.6 673.6,635.6 673.6,501.6 541.0,501.6 541.0,497.0 673.6,497.0 673.6,316.0 582.0,316.0" fill="#555" stroke="#000" stroke-width="1" />
<rect x="768.0" y="631.4" width="3.6" height="4.2" rx="0" fill="#fff" stroke="#000" stroke-width="0.7" />
<rect x="539.0" y="497.0" width="2.4" height="4.6" rx="0" fill="#fff" stroke="#000" stroke-width="0.7" />
<polygon points="812.4,291.0 837.6,291.0 837.6,316.0 812.4,316.0" fill="#555" stroke="#000" stroke-width="1" />
<polygon points="955.6,291.0 977.6,291.0 977.6,752.4 877.0,752.4 877.0,703.0 882.0,703.0 882.0,741.0 966.4,741.0 966.4,690.0 955.6,690.0 955.6,636.0 882.0,636.0 882.0,656.0 877.0,656.0 877.0,636.0 820.0,636.0 820.0,631.0 966.4,631.0 966.4,400.6 938.0,400.6 938.0,383.4 955.6,383.4" fill="#555" stroke="#000" stroke-width="1" />
<rect x="817.0" y="631.0" width="3.0" height="5.0" rx="0" fill="#fff" stroke="#000" stroke-width="0.7" />
<rect x="877.0" y="656.0" width="5.0" height="4.0" rx="0" fill="#fff" stroke="#000" stroke-width="0.7" />
<rect x="877.0" y="700.0" width="5.0" height="3.0" rx="0" fill="#fff" stroke="#000" stroke-width="0.7" />
<rect x="875.0" y="741.0" width="2.0" height="11.4" rx="0" fill="#fff" stroke="#000" stroke-width="0.7" />
<polygon points="432.4,316.0 437.4,316.0 437.4,497.0 490.0,497.0 490.0,501.6 437.4,501.6 437.4,540.0 432.4,540.0" fill="#555" stroke="#000" stroke-width="1" />
<rect x="490.0" y="497.0" width="3.6" height="4.6" rx="0" fill="#fff" stroke="#000" stroke-width="0.7" />
<rect x="432.4" y="540.0" width="5.0" height="6.0" rx="0" fill="#fff" stroke="#000" stroke-width="0.7" />
<polygon points="22.4,565.0 93.6,565.0 93.6,588.4 53.6,588.4 53.6,598.0 22.4,598.0" fill="#555" stroke="#000" stroke-width="1" />
<polygon points="215.0,521.6 239.6,521.6 239.6,596.6 215.6,596.6 215.6,588.4 193.6,588.4 193.6,565.0 215.0,565.0" fill="#555" stroke="#000" stroke-width="1" />
<polygon points="22.4,704.0 53.6,704.0 53.6,741.0 215.6,741.0 215.6,673.4 239.6,673.4 239.6,741.0 432.4,741.0 432.4,594.0 437.4,594.0 437.4,618.0 492.0,618.0 492.0,622.6 444.0,622.6 444.0,734.0 524.0,734.0 524.0,722.0 548.0,722.0 548.0,734.0 601.6,734.0 601.6,622.6 536.4,622.6 536.4,618.0 606.4,618.0 606.4,741.0 820.0,741.0 820.0,752.0 22.4,752.0" fill="#555" stroke="#000" stroke-width="1" />
<rect x="820.0" y="741.0" width="3.0" height="11.0" rx="0" fill="#fff" stroke="#000" stroke-width="0.7" />
<rect x="432.4" y="591.0" width="5.0" height="3.4" rx="0" fill="#fff" stroke="#000" stroke-width="0.7" />
<rect x="492.0" y="618.0" width="2.4" height="4.6" rx="0" fill="#fff" stroke="#000" stroke-width="0.7" />
<rect x="534.4" y="618.0" width="2.4" height="4.6" rx="0" fill="#fff" stroke="#000" stroke-width="0.7" />
<line x1="432.4" y1="741.0" x2="606.4" y2="741.0" stroke="#000" stroke-width="0.8" />
<line x1="215.6" y1="588.4" x2="215.6" y2="654.6" stroke="#999" stroke-width="0.6" />
<rect x="215.6" y="654.6" width="24.0" height="18.8" rx="0" fill="#fff" stroke="#000" stroke-width="0.8" />
<rect x="226.8" y="657.0" width="2.4" height="15.0" rx="0" fill="#e4e4e4" stroke="#aaa" stroke-width="0.6" />
<rect x="226.8" y="655.4" width="2.4" height="2.2" rx="0" fill="#fff" stroke="#000" stroke-width="0.6" />
<rect x="226.8" y="670.6" width="2.4" height="2.2" rx="0" fill="#fff" stroke="#000" stroke-width="0.6" />
<rect x="240.2" y="316.0" width="22.2" height="107.0" rx="0" fill="#fff" stroke="#000" stroke-width="1.15" />
<line x1="240.2" y1="395.2" x2="262.4" y2="395.2" stroke="#000" stroke-width="1.15" />
<polygon points="243.8,336.8 258.8,335.8 258.8,338.5 243.8,339.5" fill="#fff" stroke="#000" stroke-width="0.95" />
<polygon points="244.6,341.2 257.6,342.9 257.6,345.6 244.6,343.9" fill="#fff" stroke="#000" stroke-width="0.95" />
<polygon points="243.8,347.9 258.8,346.6 258.8,349.3 243.8,350.6" fill="#fff" stroke="#000" stroke-width="0.95" />
<polygon points="243.8,352.0 258.8,353.0 258.8,355.7 243.8,354.7" fill="#fff" stroke="#000" stroke-width="0.95" />
<polygon points="244.6,359.2 257.6,357.4 257.6,360.1 244.6,361.9" fill="#fff" stroke="#000" stroke-width="0.95" />
<polygon points="243.8,362.8 256.8,364.4 256.8,367.1 243.8,365.4" fill="#fff" stroke="#000" stroke-width="0.95" />
<polygon points="243.8,369.6 258.8,368.1 258.8,370.8 243.8,372.3" fill="#fff" stroke="#000" stroke-width="0.95" />
<polygon points="244.6,373.5 257.6,374.9 257.6,377.6 244.6,376.2" fill="#fff" stroke="#000" stroke-width="0.95" />
<polygon points="243.8,379.7 258.8,378.9 258.8,381.6 243.8,382.4" fill="#fff" stroke="#000" stroke-width="0.95" />
<polygon points="243.8,384.3 258.8,385.9 258.8,388.6 243.8,387.0" fill="#fff" stroke="#000" stroke-width="0.95" />
<polygon points="243.8,391.3 257.8,389.7 257.8,392.4 243.8,394.0" fill="#fff" stroke="#000" stroke-width="0.95" />
<g transform="translate(293.6 352.2) rotate(-45.0)" fill="#fff" stroke="#000" stroke-width="1.15">
<path d="M -19.6 18.3 L -19.6 0 A 19.6 19.6 0 0 1 19.6 0 L 19.6 18.3 Z"/><path d="M -22.0 16.2 L -22.0 0 A 22.0 22.0 0 0 1 22.0 0 L 22.0 16.2 A 2.4 2.4 0 0 1 17.2 16.2 L 17.2 0 A 17.2 17.2 0 0 0 -17.2 0 L -17.2 16.2 A 2.4 2.4 0 0 1 -22.0 16.2 Z"/><path d="M -17.2 16.2 Q -15.4 14.2 -15.4 10.2 L -15.4 0 A 15.4 15.4 0 0 1 15.4 0 L 15.4 10.2 Q 15.4 14.2 17.2 16.2" fill="none"/></g>
<circle cx="323.6" cy="380.8" r="11.4" fill="#fff" stroke="#000" stroke-width="1.15"/>
<path d="M 337.4 331.6 L 342.3 330.9 L 348.4 331.2 L 345.3 332.0 L 347.5 333.3 L 342.3 332.6 Z M 337.4 331.6 L 342.6 333.3 L 348.6 336.6 L 345.1 335.9 L 346.7 338.2 L 341.7 335.0 Z M 337.4 331.6 L 340.8 335.6 L 344.0 341.2 L 341.5 338.9 L 341.7 341.5 L 339.3 336.5 Z M 337.4 331.6 L 338.0 337.0 L 337.6 343.8 L 336.8 340.3 L 335.4 342.7 L 336.2 336.9 Z M 337.4 331.6 L 336.0 336.3 L 333.3 341.7 L 333.8 338.6 L 331.8 340.0 L 334.5 335.6 Z M 337.4 331.6 L 333.4 335.1 L 327.8 338.5 L 330.0 335.9 L 327.3 336.1 L 332.5 333.6 Z M 337.4 331.6 L 332.7 332.1 L 326.8 331.6 L 329.8 330.9 L 327.8 329.6 L 332.8 330.5 Z M 337.4 331.6 L 332.7 329.7 L 327.3 326.4 L 330.5 327.2 L 329.2 325.0 L 333.6 328.2 Z M 337.4 331.6 L 334.4 327.5 L 331.6 322.0 L 333.9 324.3 L 333.9 321.7 L 335.9 326.8 Z M 337.4 331.6 L 336.3 326.0 L 336.2 318.9 L 337.4 322.4 L 338.7 319.8 L 338.3 325.9 Z M 337.4 331.6 L 338.8 327.1 L 341.5 322.1 L 341.0 325.0 L 342.9 323.7 L 340.2 327.9 Z M 337.4 331.6 L 341.0 328.9 L 346.0 326.3 L 343.9 328.4 L 346.2 328.4 L 341.7 330.2 Z " fill="#fff" stroke="#000" stroke-width="0.85" stroke-linejoin="miter"/>
<circle cx="337.4" cy="331.6" r="2.0" fill="#000" stroke="#000" stroke-width="0.5"/>
<rect x="240.6" y="423.0" width="112.4" height="90.4" rx="2" fill="#fff" stroke="#000" stroke-width="1.15" />
<line x1="244.0" y1="423.0" x2="244.0" y2="513.4" stroke="#000" stroke-width="1.15" />
<path d="M 246.4 429.5 Q 254.7 432.0 256.7 431.1 L 257.7 432.3 L 260.3 430.5 Q 268.0 431.0 271.0 429.5 Q 269.0 447.6 271.0 465.8 Q 261.7 464.3 259.7 464.8 L 257.7 463.0 L 256.3 464.6 Q 249.4 463.8 246.4 465.8 Q 248.4 447.6 246.4 429.5 Z" fill="#fff" stroke="#000" stroke-width="1.15" />
<path d="M 246.4 469.6 Q 254.7 472.1 256.7 471.2 L 257.7 472.4 L 260.3 470.6 Q 268.0 471.1 271.0 469.6 Q 269.0 488.1 271.0 506.6 Q 261.7 505.1 259.7 505.6 L 257.7 503.8 L 256.3 505.4 Q 249.4 504.6 246.4 506.6 Q 248.4 488.1 246.4 469.6 Z" fill="#fff" stroke="#000" stroke-width="1.15" />
<polygon points="283.0,426.4 350.0,426.4 350.0,509.6 283.0,509.6 266.4,493.6 266.4,442.6" fill="#fff" stroke="#000" stroke-width="1.0" />
<polygon points="283.0,426.4 266.4,442.6 276.8,449.5" fill="#fff" stroke="#000" stroke-width="1.0" />
<polygon points="283.0,509.6 266.4,493.6 276.8,486.8" fill="#fff" stroke="#000" stroke-width="1.0" />
<rect x="240.2" y="513.4" width="22.2" height="27.6" rx="0" fill="#fff" stroke="#000" stroke-width="1.15" />
<path d="M 262.4 558 A 10.2 10.2 0 0 1 262.4 578" fill="#fff" stroke="#000" stroke-width="1.15" />
<circle cx="267.0" cy="568.0" r="10.2" fill="#fff" stroke="#000" stroke-width="1.15"/>
<path d="M 240.2 543.6 L 257.4 543.6 Q 262.4 543.6 262.4 548.6 L 262.4 590 Q 262.4 595 257.4 595 L 240.2 595 Z" fill="#fff" stroke="#000" stroke-width="1.15" />
<path d="M 240.2 549 L 243 549 Q 244.6 549 244.6 551 L 244.6 586 Q 244.6 588 243 588 L 240.2 588" fill="none" stroke="#000" stroke-width="1.15" />
<rect x="409.8" y="316.0" width="22.6" height="226.0" rx="0" fill="#fff" stroke="#000" stroke-width="1.15" />
<line x1="411.4" y1="316.0" x2="411.4" y2="542.0" stroke="#000" stroke-width="0.8" />
<line x1="409.6" y1="434.0" x2="432.4" y2="434.0" stroke="#000" stroke-width="1.15" />
<line x1="409.6" y1="502.0" x2="432.4" y2="502.0" stroke="#000" stroke-width="1.15" />
<ellipse cx="422.2" cy="468" rx="5.8" ry="11" fill="#fff" stroke="#000" stroke-width="0.9"/>
<polygon points="423.8,448.0 426.2,468.0 423.8,485.6" fill="#333" stroke="#000" stroke-width="0.6" />
<rect x="420.0" y="442.4" width="3.8" height="51.6" rx="0" fill="#fff" stroke="#000" stroke-width="0.95" />
<rect x="407.6" y="446.8" width="2.8" height="8.8" rx="1" fill="#fff" stroke="#000" stroke-width="1.15" />
<rect x="407.6" y="480.8" width="2.8" height="8.8" rx="1" fill="#fff" stroke="#000" stroke-width="1.15" />
<rect x="404.6" y="604.6" width="27.8" height="51.0" rx="0" fill="#fff" stroke="#000" stroke-width="1.15" />
<rect x="402.4" y="626.4" width="2.2" height="7.6" rx="0" fill="#fff" stroke="#000" stroke-width="1.15" />
<rect x="239.6" y="674.0" width="192.8" height="66.6" rx="0" fill="#fff" stroke="#000" stroke-width="1.15" />
<path d="M 239.6 674 L 291 674 L 291 671.6 L 381.4 671.6 L 381.4 674 L 432.4 674" fill="#fff" stroke="#000" stroke-width="1.15" />
<line x1="291.0" y1="674.0" x2="381.4" y2="674.0" stroke="#000" stroke-width="0.6" />
<line x1="336.4" y1="671.6" x2="336.4" y2="674.0" stroke="#000" stroke-width="1.15" />
<line x1="273.6" y1="674.0" x2="273.6" y2="740.6" stroke="#000" stroke-width="1.15" />
<line x1="398.6" y1="674.0" x2="398.6" y2="740.6" stroke="#000" stroke-width="1.15" />
<line x1="273.6" y1="718.0" x2="398.6" y2="718.0" stroke="#000" stroke-width="1.15" />
<path transform="translate(256.0 689.6) rotate(0)" d="M -9.5 0 L 9.5 0 Q 10.3 -0.2 9.8 -1.3 Q 3 -1.7 0 -3.5 Q -3 -1.7 -9.8 -1.3 Q -10.3 -0.2 -9.5 0 Z M 0 -3.5 C 0 -5 1.9 -5.2 1.9 -6.9 A 1.8 1.8 0 1 0 -1.6 -7.2" fill="none" stroke="#000" stroke-width="0.85" stroke-linejoin="round" stroke-linecap="round"/>
<path transform="translate(414.6 689.6) rotate(0)" d="M -9.5 0 L 9.5 0 Q 10.3 -0.2 9.8 -1.3 Q 3 -1.7 0 -3.5 Q -3 -1.7 -9.8 -1.3 Q -10.3 -0.2 -9.5 0 Z M 0 -3.5 C 0 -5 1.9 -5.2 1.9 -6.9 A 1.8 1.8 0 1 0 -1.6 -7.2" fill="none" stroke="#000" stroke-width="0.85" stroke-linejoin="round" stroke-linecap="round"/>
<path transform="translate(256.0 709.6) rotate(0)" d="M -9.5 0 L 9.5 0 Q 10.3 -0.2 9.8 -1.3 Q 3 -1.7 0 -3.5 Q -3 -1.7 -9.8 -1.3 Q -10.3 -0.2 -9.5 0 Z M 0 -3.5 C 0 -5 1.9 -5.2 1.9 -6.9 A 1.8 1.8 0 1 0 -1.6 -7.2" fill="none" stroke="#000" stroke-width="0.85" stroke-linejoin="round" stroke-linecap="round"/>
<path transform="translate(414.6 709.6) rotate(0)" d="M -9.5 0 L 9.5 0 Q 10.3 -0.2 9.8 -1.3 Q 3 -1.7 0 -3.5 Q -3 -1.7 -9.8 -1.3 Q -10.3 -0.2 -9.5 0 Z M 0 -3.5 C 0 -5 1.9 -5.2 1.9 -6.9 A 1.8 1.8 0 1 0 -1.6 -7.2" fill="none" stroke="#000" stroke-width="0.85" stroke-linejoin="round" stroke-linecap="round"/>
<path transform="translate(256.0 729.4) rotate(0)" d="M -9.5 0 L 9.5 0 Q 10.3 -0.2 9.8 -1.3 Q 3 -1.7 0 -3.5 Q -3 -1.7 -9.8 -1.3 Q -10.3 -0.2 -9.5 0 Z M 0 -3.5 C 0 -5 1.9 -5.2 1.9 -6.9 A 1.8 1.8 0 1 0 -1.6 -7.2" fill="none" stroke="#000" stroke-width="0.85" stroke-linejoin="round" stroke-linecap="round"/>
<path transform="translate(414.6 729.4) rotate(0)" d="M -9.5 0 L 9.5 0 Q 10.3 -0.2 9.8 -1.3 Q 3 -1.7 0 -3.5 Q -3 -1.7 -9.8 -1.3 Q -10.3 -0.2 -9.5 0 Z M 0 -3.5 C 0 -5 1.9 -5.2 1.9 -6.9 A 1.8 1.8 0 1 0 -1.6 -7.2" fill="none" stroke="#000" stroke-width="0.85" stroke-linejoin="round" stroke-linecap="round"/>
<path transform="translate(293.4 733.4) rotate(0)" d="M -9.5 0 L 9.5 0 Q 10.3 -0.2 9.8 -1.3 Q 3 -1.7 0 -3.5 Q -3 -1.7 -9.8 -1.3 Q -10.3 -0.2 -9.5 0 Z M 0 -3.5 C 0 -5 1.9 -5.2 1.9 -6.9 A 1.8 1.8 0 1 0 -1.6 -7.2" fill="none" stroke="#000" stroke-width="0.85" stroke-linejoin="round" stroke-linecap="round"/>
<path transform="translate(321.4 733.4) rotate(0)" d="M -9.5 0 L 9.5 0 Q 10.3 -0.2 9.8 -1.3 Q 3 -1.7 0 -3.5 Q -3 -1.7 -9.8 -1.3 Q -10.3 -0.2 -9.5 0 Z M 0 -3.5 C 0 -5 1.9 -5.2 1.9 -6.9 A 1.8 1.8 0 1 0 -1.6 -7.2" fill="none" stroke="#000" stroke-width="0.85" stroke-linejoin="round" stroke-linecap="round"/>
<path transform="translate(349.4 733.4) rotate(0)" d="M -9.5 0 L 9.5 0 Q 10.3 -0.2 9.8 -1.3 Q 3 -1.7 0 -3.5 Q -3 -1.7 -9.8 -1.3 Q -10.3 -0.2 -9.5 0 Z M 0 -3.5 C 0 -5 1.9 -5.2 1.9 -6.9 A 1.8 1.8 0 1 0 -1.6 -7.2" fill="none" stroke="#000" stroke-width="0.85" stroke-linejoin="round" stroke-linecap="round"/>
<path transform="translate(377.2 733.4) rotate(0)" d="M -9.5 0 L 9.5 0 Q 10.3 -0.2 9.8 -1.3 Q 3 -1.7 0 -3.5 Q -3 -1.7 -9.8 -1.3 Q -10.3 -0.2 -9.5 0 Z M 0 -3.5 C 0 -5 1.9 -5.2 1.9 -6.9 A 1.8 1.8 0 1 0 -1.6 -7.2" fill="none" stroke="#000" stroke-width="0.85" stroke-linejoin="round" stroke-linecap="round"/>
<rect x="226.6" y="596.6" width="2.0" height="2.8" rx="0" fill="#fff" stroke="#000" stroke-width="0.6" />
<polygon points="229.0,655.0 268.0,615.4 266.0,613.4 227.0,653.0" fill="#fff" stroke="#000" stroke-width="1.1" />
<polygon points="433.0,544.6 400.0,578.0 402.0,580.0 435.0,546.6" fill="#fff" stroke="#000" stroke-width="1.1" />
<polygon points="539.0,498.0 505.0,532.0 507.0,534.0 541.0,500.0" fill="#fff" stroke="#000" stroke-width="1.1" />
<polygon points="495.0,621.0 524.4,592.0 522.4,590.0 493.0,619.0" fill="#fff" stroke="#000" stroke-width="1.1" />
<polygon points="760.0,392.0 797.0,428.0 799.0,426.0 762.0,390.0" fill="#fff" stroke="#000" stroke-width="1.1" />
<polygon points="817.0,632.5 783.0,666.5 785.0,668.5 819.0,634.5" fill="#fff" stroke="#000" stroke-width="1.1" />
<polygon points="878.5,658.0 849.0,688.0 851.0,690.0 880.5,660.0" fill="#fff" stroke="#000" stroke-width="1.1" />
<polygon points="875.0,742.0 832.0,698.4 830.0,700.4 873.0,744.0" fill="#fff" stroke="#000" stroke-width="1.1" />
<path d="M 456.0 519.4 L 461.5 519.7 L 468.0 521.3 L 464.5 521.5 L 466.6 523.3 L 461.0 521.5 Z M 456.0 519.4 L 460.0 522.3 L 464.2 526.7 L 461.4 525.1 L 462.1 527.5 L 458.8 523.5 Z M 456.0 519.4 L 457.7 524.5 L 458.6 531.1 L 457.1 527.9 L 456.2 530.5 L 455.9 524.8 Z M 456.0 519.4 L 455.3 524.3 L 453.4 530.1 L 453.4 526.9 L 451.6 528.7 L 453.7 523.8 Z M 456.0 519.4 L 453.4 523.3 L 449.5 527.5 L 450.8 524.8 L 448.5 525.6 L 452.3 522.2 Z M 456.0 519.4 L 451.5 520.9 L 445.6 521.8 L 448.4 520.4 L 446.1 519.6 L 451.2 519.3 Z M 456.0 519.4 L 451.4 519.1 L 446.0 517.6 L 448.9 517.5 L 447.2 515.9 L 451.8 517.6 Z M 456.0 519.4 L 451.5 516.4 L 446.7 511.8 L 449.8 513.3 L 448.9 510.8 L 452.8 515.1 Z M 456.0 519.4 L 454.0 515.3 L 452.6 509.8 L 454.2 512.3 L 454.7 510.0 L 455.5 514.8 Z M 456.0 519.4 L 456.6 514.7 L 458.4 509.1 L 458.4 512.1 L 460.1 510.4 L 458.2 515.1 Z M 456.0 519.4 L 458.7 515.7 L 462.8 511.8 L 461.4 514.4 L 463.6 513.7 L 459.8 516.8 Z M 456.0 519.4 L 460.8 517.6 L 467.1 516.6 L 464.1 518.1 L 466.6 518.9 L 461.1 519.4 Z " fill="#fff" stroke="#000" stroke-width="0.85" stroke-linejoin="miter"/>
<circle cx="456.0" cy="519.4" r="2.0" fill="#000" stroke="#000" stroke-width="0.5"/>
<path d="M 459.0 602.0 L 463.7 602.0 L 469.3 603.1 L 466.3 603.5 L 468.2 604.9 L 463.4 603.6 Z M 459.0 602.0 L 464.0 604.0 L 469.7 607.5 L 466.3 606.7 L 467.7 609.0 L 463.1 605.6 Z M 459.0 602.0 L 461.9 606.0 L 464.6 611.5 L 462.4 609.2 L 462.3 611.7 L 460.4 606.7 Z M 459.0 602.0 L 459.0 607.1 L 457.8 613.2 L 457.4 609.9 L 455.8 612.0 L 457.3 606.8 Z M 459.0 602.0 L 456.8 606.4 L 453.1 611.2 L 454.2 608.2 L 451.9 609.3 L 455.4 605.4 Z M 459.0 602.0 L 455.0 604.6 L 449.7 607.0 L 452.0 604.9 L 449.6 604.8 L 454.4 603.2 Z M 459.0 602.0 L 454.5 602.0 L 449.0 601.1 L 451.9 600.7 L 450.0 599.3 L 454.7 600.5 Z M 459.0 602.0 L 454.1 600.0 L 448.6 596.4 L 451.9 597.3 L 450.6 595.0 L 455.1 598.5 Z M 459.0 602.0 L 456.3 597.5 L 454.1 591.5 L 456.2 594.2 L 456.5 591.5 L 458.0 596.9 Z M 459.0 602.0 L 458.3 596.8 L 458.5 590.4 L 459.4 593.6 L 460.7 591.3 L 460.0 596.9 Z M 459.0 602.0 L 460.8 597.6 L 464.0 592.7 L 463.2 595.6 L 465.3 594.4 L 462.2 598.5 Z M 459.0 602.0 L 463.5 598.9 L 469.7 596.2 L 467.0 598.6 L 469.8 598.7 L 464.3 600.6 Z " fill="#fff" stroke="#000" stroke-width="0.85" stroke-linejoin="miter"/>
<circle cx="459.0" cy="602.0" r="2.0" fill="#000" stroke="#000" stroke-width="0.5"/>
<rect x="437.4" y="316.0" width="34.0" height="84.6" rx="0" fill="#fff" stroke="#000" stroke-width="1.15" />
<rect x="437.4" y="400.6" width="22.2" height="96.4" rx="0" fill="#fff" stroke="#000" stroke-width="1.15" />
<polygon points="441.2,419.4 454.6,418.0 454.6,420.7 441.2,422.1" fill="#fff" stroke="#000" stroke-width="0.95" />
<polygon points="440.4,423.2 454.8,424.9 454.8,427.6 440.4,425.9" fill="#fff" stroke="#000" stroke-width="0.95" />
<polygon points="441.2,430.0 455.6,428.4 455.6,431.1 441.2,432.7" fill="#fff" stroke="#000" stroke-width="0.95" />
<polygon points="440.4,433.6 454.8,434.4 454.8,437.1 440.4,436.3" fill="#fff" stroke="#000" stroke-width="0.95" />
<polygon points="440.4,439.9 454.8,438.8 454.8,441.5 440.4,442.6" fill="#fff" stroke="#000" stroke-width="0.95" />
<polygon points="440.4,444.0 454.8,445.3 454.8,448.0 440.4,446.7" fill="#fff" stroke="#000" stroke-width="0.95" />
<polygon points="440.4,450.7 452.8,449.2 452.8,451.9 440.4,453.4" fill="#fff" stroke="#000" stroke-width="0.95" />
<polygon points="440.4,454.3 452.8,455.3 452.8,458.0 440.4,457.0" fill="#fff" stroke="#000" stroke-width="0.95" />
<polygon points="440.4,461.1 454.8,459.5 454.8,462.2 440.4,463.8" fill="#fff" stroke="#000" stroke-width="0.95" />
<polygon points="440.4,464.7 452.8,466.1 452.8,468.8 440.4,467.4" fill="#fff" stroke="#000" stroke-width="0.95" />
<polygon points="440.4,470.8 454.8,469.9 454.8,472.6 440.4,473.5" fill="#fff" stroke="#000" stroke-width="0.95" />
<polygon points="440.4,475.1 454.8,476.7 454.8,479.4 440.4,477.8" fill="#fff" stroke="#000" stroke-width="0.95" />
<polygon points="441.2,481.4 455.6,480.3 455.6,483.0 441.2,484.1" fill="#fff" stroke="#000" stroke-width="0.95" />
<polygon points="440.4,485.5 454.8,487.2 454.8,489.9 440.4,488.2" fill="#fff" stroke="#000" stroke-width="0.95" />
<polygon points="440.4,492.4 454.8,490.7 454.8,493.4 440.4,495.1" fill="#fff" stroke="#000" stroke-width="0.95" />
<rect x="454.8" y="346.4" width="10.0" height="22.8" rx="0" fill="#fff" stroke="#000" stroke-width="1.15" />
<rect x="457.2" y="347.6" width="6.6" height="20.6" rx="0" fill="#fff" stroke="#000" stroke-width="0.8" />
<line x1="457.2" y1="351.4" x2="463.8" y2="351.4" stroke="#000" stroke-width="0.8" />
<polygon points="450.8,348.4 450.8,367.2 444.6,364.8 444.6,350.4" fill="#fff" stroke="#000" stroke-width="0.9" />
<line x1="449.2" y1="349.0" x2="449.2" y2="366.6" stroke="#000" stroke-width="0.7" />
<rect x="477.6" y="340.0" width="17.6" height="4.8" rx="2.2" fill="#fff" stroke="#000" stroke-width="1.15" />
<rect x="477.6" y="371.0" width="17.6" height="4.6" rx="2.2" fill="#fff" stroke="#000" stroke-width="1.15" />
<path d="M 476.2 344 L 495.6 344 Q 498.4 344 498.4 346.6 L 498.4 369 Q 498.4 371.6 495.6 371.6 L 476.2 371.6 Q 473.2 371.6 473.2 368.6 L 473.2 347 Q 473.2 344 476.2 344 Z" fill="#fff" stroke="#000" stroke-width="1.15" />
<path d="M 497 344.4 Q 511.6 357.8 497 371.2 Q 504.6 357.8 497 344.4 Z" fill="#fff" stroke="#000" stroke-width="0.9" />
<rect x="561.4" y="316.0" width="111.2" height="50.4" rx="1.5" fill="#fff" stroke="#000" stroke-width="1.15" />
<line x1="669.5" y1="316.0" x2="669.5" y2="366.4" stroke="#000" stroke-width="1.15" />
<path d="M 644.3 324.6 L 655 324.4 L 656.6 325.6 L 658 324.2 Q 664 322.6 667.6 322.8 Q 665.4 341 668 359.4 Q 661 357.6 657.4 356.6 L 656 357.6 L 654.6 358.4 Q 648 359.6 644.3 359.4 Q 645.6 341 644.3 324.6 Z" fill="#fff" stroke="#000" stroke-width="1.15" />
<polygon points="563.6,317.4 649.4,317.4 649.4,346.8 633.2,364.2 563.6,364.2" fill="#fff" stroke="#000" stroke-width="1.0" />
<polygon points="649.4,346.8 638.9,341.4 633.2,364.2" fill="#fff" stroke="#000" stroke-width="1.0" />
<rect x="651.4" y="366.4" width="21.6" height="28.0" rx="0" fill="#fff" stroke="#000" stroke-width="1.15" />
<g transform="translate(637.2 419.2) rotate(121.4)" fill="#fff" stroke="#000" stroke-width="1.15">
<path d="M -19.6 18.3 L -19.6 0 A 19.6 19.6 0 0 1 19.6 0 L 19.6 18.3 Z"/><path d="M -22.0 16.2 L -22.0 0 A 22.0 22.0 0 0 1 22.0 0 L 22.0 16.2 A 2.4 2.4 0 0 1 17.2 16.2 L 17.2 0 A 17.2 17.2 0 0 0 -17.2 0 L -17.2 16.2 A 2.4 2.4 0 0 1 -22.0 16.2 Z"/><path d="M -17.2 16.2 Q -15.4 14.2 -15.4 10.2 L -15.4 0 A 15.4 15.4 0 0 1 15.4 0 L 15.4 10.2 Q 15.4 14.2 17.2 16.2" fill="none"/></g>
<rect x="555.4" y="463.0" width="118.2" height="33.8" rx="0" fill="#fff" stroke="#000" stroke-width="1.15" />
<line x1="555.4" y1="466.0" x2="673.6" y2="466.0" stroke="#000" stroke-width="0.6" />
<line x1="585.6" y1="463.0" x2="585.6" y2="466.0" stroke="#000" stroke-width="1.15" />
<line x1="615.0" y1="463.0" x2="615.0" y2="466.0" stroke="#000" stroke-width="1.15" />
<line x1="645.0" y1="463.0" x2="645.0" y2="466.0" stroke="#000" stroke-width="1.15" />
<path transform="translate(569.3 481.3) rotate(-90)" d="M -9.5 0 L 9.5 0 Q 10.3 -0.2 9.8 -1.3 Q 3 -1.7 0 -3.5 Q -3 -1.7 -9.8 -1.3 Q -10.3 -0.2 -9.5 0 Z M 0 -3.5 C 0 -5 1.9 -5.2 1.9 -6.9 A 1.8 1.8 0 1 0 -1.6 -7.2" fill="none" stroke="#000" stroke-width="0.85" stroke-linejoin="round" stroke-linecap="round"/>
<path transform="translate(589.0 481.3) rotate(-90)" d="M -9.5 0 L 9.5 0 Q 10.3 -0.2 9.8 -1.3 Q 3 -1.7 0 -3.5 Q -3 -1.7 -9.8 -1.3 Q -10.3 -0.2 -9.5 0 Z M 0 -3.5 C 0 -5 1.9 -5.2 1.9 -6.9 A 1.8 1.8 0 1 0 -1.6 -7.2" fill="none" stroke="#000" stroke-width="0.85" stroke-linejoin="round" stroke-linecap="round"/>
<path transform="translate(608.8 481.3) rotate(-90)" d="M -9.5 0 L 9.5 0 Q 10.3 -0.2 9.8 -1.3 Q 3 -1.7 0 -3.5 Q -3 -1.7 -9.8 -1.3 Q -10.3 -0.2 -9.5 0 Z M 0 -3.5 C 0 -5 1.9 -5.2 1.9 -6.9 A 1.8 1.8 0 1 0 -1.6 -7.2" fill="none" stroke="#000" stroke-width="0.85" stroke-linejoin="round" stroke-linecap="round"/>
<path transform="translate(628.5 481.3) rotate(-90)" d="M -9.5 0 L 9.5 0 Q 10.3 -0.2 9.8 -1.3 Q 3 -1.7 0 -3.5 Q -3 -1.7 -9.8 -1.3 Q -10.3 -0.2 -9.5 0 Z M 0 -3.5 C 0 -5 1.9 -5.2 1.9 -6.9 A 1.8 1.8 0 1 0 -1.6 -7.2" fill="none" stroke="#000" stroke-width="0.85" stroke-linejoin="round" stroke-linecap="round"/>
<path transform="translate(648.3 481.3) rotate(-90)" d="M -9.5 0 L 9.5 0 Q 10.3 -0.2 9.8 -1.3 Q 3 -1.7 0 -3.5 Q -3 -1.7 -9.8 -1.3 Q -10.3 -0.2 -9.5 0 Z M 0 -3.5 C 0 -5 1.9 -5.2 1.9 -6.9 A 1.8 1.8 0 1 0 -1.6 -7.2" fill="none" stroke="#000" stroke-width="0.85" stroke-linejoin="round" stroke-linecap="round"/>
<path transform="translate(668.0 481.3) rotate(-90)" d="M -9.5 0 L 9.5 0 Q 10.3 -0.2 9.8 -1.3 Q 3 -1.7 0 -3.5 Q -3 -1.7 -9.8 -1.3 Q -10.3 -0.2 -9.5 0 Z M 0 -3.5 C 0 -5 1.9 -5.2 1.9 -6.9 A 1.8 1.8 0 1 0 -1.6 -7.2" fill="none" stroke="#000" stroke-width="0.85" stroke-linejoin="round" stroke-linecap="round"/>
<rect x="542.0" y="501.6" width="131.6" height="27.0" rx="0" fill="#fff" stroke="#000" stroke-width="1.15" />
<line x1="542.0" y1="526.4" x2="673.6" y2="526.4" stroke="#000" stroke-width="0.6" />
<line x1="582.6" y1="501.6" x2="582.6" y2="526.4" stroke="#000" stroke-width="1.15" />
<line x1="633.0" y1="501.6" x2="633.0" y2="526.4" stroke="#000" stroke-width="1.15" />
<rect x="603.6" y="528.6" width="8.4" height="2.2" rx="0.8" fill="#fff" stroke="#000" stroke-width="1.15" />
<rect x="678.4" y="530.4" width="16.6" height="101.0" rx="0" fill="#fff" stroke="#000" stroke-width="1.15" />
<line x1="693.0" y1="530.4" x2="693.0" y2="631.4" stroke="#666" stroke-width="0.6" />
<line x1="678.4" y1="553.0" x2="695.0" y2="553.0" stroke="#000" stroke-width="1.15" />
<line x1="678.4" y1="608.6" x2="695.0" y2="608.6" stroke="#000" stroke-width="1.15" />
<path d="M 683.6 536.7 L 685.2 536.7 A 5.6 5.6 0 0 1 685.2 548.1 Z M 685.2 548.1 L 683.6 548.1 L 683.6 536.7" fill="#fff" stroke="#000" stroke-width="1.15" />
<line x1="685.2" y1="536.7" x2="685.2" y2="548.1" stroke="#000" stroke-width="0.8" />
<path d="M 683.6 613.9 L 685.2 613.9 A 5.6 5.6 0 0 1 685.2 625.3 Z M 685.2 625.3 L 683.6 625.3 L 683.6 613.9" fill="#fff" stroke="#000" stroke-width="1.15" />
<line x1="685.2" y1="613.9" x2="685.2" y2="625.3" stroke="#000" stroke-width="0.8" />
<rect x="673.4" y="636.0" width="34.0" height="22.0" rx="0" fill="#fff" stroke="#444" stroke-width="0.7" />
<path d="M 684.6 639 Q 688 640.5 689.6 645 Q 691 649.5 696 652.6 Q 700 653.6 701.4 655.6 L 690 655.6 Q 688.4 651.6 686.4 649 L 686 655.6 L 685.2 655.6 Q 685 648 682.8 644.6 Q 682.6 641 684.6 639 Z" fill="#000" stroke="#000" stroke-width="0.3" />
<rect x="715.0" y="637.0" width="45.0" height="28.6" rx="4" fill="#fff" stroke="#000" stroke-width="1.15" />
<rect x="717.0" y="639.0" width="41.0" height="24.6" rx="3" fill="#fff" stroke="#000" stroke-width="1.15" />
<line x1="722.0" y1="644.2" x2="724.8" y2="647.0" stroke="#000" stroke-width="1.0" />
<line x1="722.0" y1="647.0" x2="724.8" y2="644.2" stroke="#000" stroke-width="1.0" />
<line x1="722.0" y1="655.2" x2="724.8" y2="658.0" stroke="#000" stroke-width="1.0" />
<line x1="722.0" y1="658.0" x2="724.8" y2="655.2" stroke="#000" stroke-width="1.0" />
<line x1="736.0" y1="644.2" x2="738.8" y2="647.0" stroke="#000" stroke-width="1.0" />
<line x1="736.0" y1="647.0" x2="738.8" y2="644.2" stroke="#000" stroke-width="1.0" />
<line x1="736.0" y1="655.2" x2="738.8" y2="658.0" stroke="#000" stroke-width="1.0" />
<line x1="736.0" y1="658.0" x2="738.8" y2="655.2" stroke="#000" stroke-width="1.0" />
<line x1="750.2" y1="644.2" x2="753.0" y2="647.0" stroke="#000" stroke-width="1.0" />
<line x1="750.2" y1="647.0" x2="753.0" y2="644.2" stroke="#000" stroke-width="1.0" />
<line x1="750.2" y1="655.2" x2="753.0" y2="658.0" stroke="#000" stroke-width="1.0" />
<line x1="750.2" y1="658.0" x2="753.0" y2="655.2" stroke="#000" stroke-width="1.0" />
<rect x="606.4" y="707.2" width="209.2" height="33.4" rx="0" fill="#fff" stroke="#000" stroke-width="1.15" />
<line x1="606.4" y1="710.0" x2="815.6" y2="710.0" stroke="#000" stroke-width="0.6" />
<line x1="703.6" y1="707.2" x2="703.6" y2="740.6" stroke="#000" stroke-width="1.15" />
<line x1="671.0" y1="707.2" x2="671.0" y2="710.0" stroke="#000" stroke-width="1.15" />
<line x1="731.6" y1="707.2" x2="731.6" y2="710.0" stroke="#000" stroke-width="1.15" />
<line x1="759.4" y1="707.2" x2="759.4" y2="710.0" stroke="#000" stroke-width="1.15" />
<line x1="787.4" y1="707.2" x2="787.4" y2="710.0" stroke="#000" stroke-width="1.15" />
<path transform="translate(713.0 725.0) rotate(-90)" d="M -9.5 0 L 9.5 0 Q 10.3 -0.2 9.8 -1.3 Q 3 -1.7 0 -3.5 Q -3 -1.7 -9.8 -1.3 Q -10.3 -0.2 -9.5 0 Z M 0 -3.5 C 0 -5 1.9 -5.2 1.9 -6.9 A 1.8 1.8 0 1 0 -1.6 -7.2" fill="none" stroke="#000" stroke-width="0.85" stroke-linejoin="round" stroke-linecap="round"/>
<path transform="translate(732.6 725.0) rotate(-90)" d="M -9.5 0 L 9.5 0 Q 10.3 -0.2 9.8 -1.3 Q 3 -1.7 0 -3.5 Q -3 -1.7 -9.8 -1.3 Q -10.3 -0.2 -9.5 0 Z M 0 -3.5 C 0 -5 1.9 -5.2 1.9 -6.9 A 1.8 1.8 0 1 0 -1.6 -7.2" fill="none" stroke="#000" stroke-width="0.85" stroke-linejoin="round" stroke-linecap="round"/>
<path transform="translate(752.2 725.0) rotate(-90)" d="M -9.5 0 L 9.5 0 Q 10.3 -0.2 9.8 -1.3 Q 3 -1.7 0 -3.5 Q -3 -1.7 -9.8 -1.3 Q -10.3 -0.2 -9.5 0 Z M 0 -3.5 C 0 -5 1.9 -5.2 1.9 -6.9 A 1.8 1.8 0 1 0 -1.6 -7.2" fill="none" stroke="#000" stroke-width="0.85" stroke-linejoin="round" stroke-linecap="round"/>
<path transform="translate(771.8 725.0) rotate(-90)" d="M -9.5 0 L 9.5 0 Q 10.3 -0.2 9.8 -1.3 Q 3 -1.7 0 -3.5 Q -3 -1.7 -9.8 -1.3 Q -10.3 -0.2 -9.5 0 Z M 0 -3.5 C 0 -5 1.9 -5.2 1.9 -6.9 A 1.8 1.8 0 1 0 -1.6 -7.2" fill="none" stroke="#000" stroke-width="0.85" stroke-linejoin="round" stroke-linecap="round"/>
<path transform="translate(791.4 725.0) rotate(-90)" d="M -9.5 0 L 9.5 0 Q 10.3 -0.2 9.8 -1.3 Q 3 -1.7 0 -3.5 Q -3 -1.7 -9.8 -1.3 Q -10.3 -0.2 -9.5 0 Z M 0 -3.5 C 0 -5 1.9 -5.2 1.9 -6.9 A 1.8 1.8 0 1 0 -1.6 -7.2" fill="none" stroke="#000" stroke-width="0.85" stroke-linejoin="round" stroke-linecap="round"/>
<path transform="translate(811.0 725.0) rotate(-90)" d="M -9.5 0 L 9.5 0 Q 10.3 -0.2 9.8 -1.3 Q 3 -1.7 0 -3.5 Q -3 -1.7 -9.8 -1.3 Q -10.3 -0.2 -9.5 0 Z M 0 -3.5 C 0 -5 1.9 -5.2 1.9 -6.9 A 1.8 1.8 0 1 0 -1.6 -7.2" fill="none" stroke="#000" stroke-width="0.85" stroke-linejoin="round" stroke-linecap="round"/>
<rect x="444.0" y="622.6" width="42.0" height="111.4" rx="0" fill="#fff" stroke="#000" stroke-width="1.15" />
<line x1="444.0" y1="638.0" x2="486.0" y2="638.0" stroke="#000" stroke-width="1.15" />
<rect x="447.0" y="641.0" width="37.0" height="90.4" rx="16" fill="#fff" stroke="#000" stroke-width="1.15" />
<rect x="448.4" y="642.4" width="34.2" height="87.6" rx="15" fill="#fff" stroke="#000" stroke-width="0.5" />
<circle cx="465.6" cy="719.4" r="1.3" fill="#fff" stroke="#000" stroke-width="0.6"/>
<path d="M 486 708 L 548 708 L 548 722 L 524 722 L 524 734 L 486 734 Z" fill="#fff" stroke="#000" stroke-width="1.15" />
<rect x="489.4" y="710.4" width="30.6" height="18.0" rx="1.5" fill="#fff" stroke="#000" stroke-width="1.15" />
<circle cx="505.0" cy="722.6" r="1.2" fill="#000" stroke="#000" stroke-width="1.15"/>
<path d="M 503 728.4 L 503 730.6 M 507 728.4 L 507 730.6 M 501.6 730.2 L 508.6 730.2" fill="none" stroke="#000" stroke-width="0.6" />
<rect x="548.0" y="711.6" width="53.6" height="27.8" rx="0" fill="#555" stroke="#000" stroke-width="1" />
<rect x="550.4" y="714.0" width="48.2" height="23.0" rx="0" fill="#555" stroke="#000" stroke-width="0.9" />
<path d="M 550.4 714 L 590 717.4 L 595 737 M 590 717.4 L 598.6 715" fill="none" stroke="#000" stroke-width="0.7" />
<rect x="537.0" y="622.6" width="33.4" height="22.4" rx="0" fill="#fff" stroke="#000" stroke-width="1.15" />
<rect x="570.4" y="622.6" width="31.2" height="21.0" rx="0" fill="#fff" stroke="#000" stroke-width="1.15" />
<path d="M 554.23 635.35 L 554.14 635.33 L 554.06 635.29 L 553.97 635.25 L 553.89 635.20 L 553.81 635.13 L 553.74 635.05 L 553.67 634.97 L 553.62 634.87 L 553.57 634.77 L 553.53 634.66 L 553.50 634.54 L 553.49 634.41 L 553.49 634.28 L 553.50 634.15 L 553.53 634.02 L 553.57 633.88 L 553.63 633.75 L 553.70 633.63 L 553.79 633.50 L 553.89 633.39 L 554.00 633.28 L 554.13 633.19 L 554.27 633.10 L 554.42 633.03 L 554.59 632.97 L 554.76 632.93 L 554.93 632.91 L 555.12 632.91 L 555.30 632.92 L 555.49 632.95 L 555.67 633.01 L 555.86 633.08 L 556.03 633.17 L 556.20 633.28 L 556.36 633.42 L 556.51 633.56 L 556.65 633.73 L 556.77 633.91 L 556.87 634.11 L 556.96 634.32 L 557.02 634.54 L 557.06 634.77 L 557.08 635.00 L 557.08 635.24 L 557.05 635.48 L 556.99 635.72 L 556.91 635.96 L 556.81 636.19 L 556.68 636.41 L 556.53 636.63 L 556.36 636.83 L 556.16 637.01 L 555.95 637.17 L 555.71 637.32 L 555.46 637.44 L 555.20 637.54 L 554.92 637.61 L 554.63 637.66 L 554.34 637.67 L 554.04 637.66 L 553.74 637.62 L 553.45 637.54 L 553.16 637.44 L 552.88 637.31 L 552.61 637.14 L 552.35 636.95 L 552.11 636.74 L 551.90 636.49 L 551.70 636.23 L 551.53 635.94 L 551.39 635.64 L 551.28 635.31 L 551.20 634.98 L 551.15 634.64 L 551.14 634.28 L 551.16 633.93 L 551.21 633.58 L 551.31 633.23 L 551.43 632.88 L 551.60 632.55 L 551.79 632.23 L 552.02 631.94 L 552.28 631.66 L 552.57 631.40 L 552.89 631.18 L 553.22 630.98 L 553.58 630.82 L 553.96 630.70 L 554.35 630.61 L 554.76 630.55 L 555.17 630.54 L 555.58 630.57 L 555.99 630.64 L 556.39 630.75 L 556.79 630.90 L 557.17 631.10 L 557.53 631.33 L 557.88 631.59 L 558.19 631.89 L 558.48 632.23 L 558.74 632.59 L 558.96 632.98 L 559.14 633.40 L 559.29 633.83 L 559.39 634.28 L 559.44 634.74 L 559.45 635.21 L 559.42 635.68 L 559.33 636.15 L 559.20 636.61 L 559.03 637.05 L 558.81 637.49 L 558.55 637.90 L 558.24 638.29 L 557.90 638.64 L 557.52 638.97 L 557.10 639.26 L 556.66 639.50 L 556.19 639.71 L 555.70 639.87 L 555.20 639.98 L 554.68 640.04 L 554.15 640.05 L 553.63 640.00 L 553.10 639.91 L 552.59 639.76 L 552.08 639.56 L 551.60 639.32 L 551.14 639.02 L 550.71 638.68 L 550.31 638.29 L 549.95 637.87 L 549.63 637.40 L 549.36 636.91 L 549.13 636.39 L 548.96 635.84 L 548.83 635.28 L 548.77 634.70 L 548.76 634.12 L 548.81 633.54 L 548.91 632.95 L 549.08 632.38 L 549.30 631.83 L 549.57 631.29 L 549.90 630.79 L 550.28 630.31 L 550.71 629.87 L 551.18 629.47 L 551.69 629.12 L 552.23 628.82 L 552.81 628.57 L 553.41 628.38 L 554.03 628.25 L 554.66 628.17 L 555.31 628.16 L 555.95 628.22 L 556.59 628.34 L 557.21 628.52 L 557.82 628.76 L 558.41 629.06 L 558.97 629.42 L 559.49 629.84 L 559.97 630.30 L 560.40 630.82 L 560.79 631.38 L 561.12 631.97 L 561.39 632.60 L 561.60 633.26 L 561.74 633.94 L 561.82 634.63 L 561.83 635.33 L 561.77 636.03 L 561.64 636.72 L 561.45 637.41 L 561.18 638.07 L 560.86 638.71 L 560.46 639.31 L 560.01 639.88 L 559.50 640.40 L 558.94 640.88 L 558.34 641.29 L 557.69 641.65 L 557.01 641.95 L 556.30 642.17 L 555.56 642.33 L 554.81 642.42 L 554.06 642.43 L 553.30 642.36 L 552.55 642.23 L 551.81 642.01 L 551.09 641.73 L 550.40 641.37 L 549.74 640.95 L 549.13 640.46 L 548.57 639.92 L 548.06 639.31 L 547.60 638.66 L 547.22 637.96 L 546.90 637.23 " fill="none" stroke="#000" stroke-width="0.8" />
<path d="M 565 700.6 L 565 686 Q 565 672.4 574.7 672.4 Q 584.4 672.4 584.4 686 L 584.4 700.6 Z" fill="#fff" stroke="#000" stroke-width="1.15" />
<path d="M 568 698 L 567.4 686 Q 567.6 675 574.7 675 Q 581.8 675 582 686 L 581.4 698 Q 574.7 702 568 698 Z" fill="#fff" stroke="#000" stroke-width="0.7" />
<path d="M 571 676.6 Q 574.7 674.6 578.4 676.6 Q 574.7 678.8 571 676.6 Z" fill="#fff" stroke="#000" stroke-width="0.6" />
<path d="M 571 698.4 Q 574.7 694.6 578.4 698.4" fill="none" stroke="#000" stroke-width="0.6" />
<rect x="563.0" y="700.6" width="22.6" height="10.6" rx="0" fill="#fff" stroke="#000" stroke-width="1.15" />
<circle cx="574.4" cy="707.4" r="0.9" fill="#555" stroke="#000" stroke-width="0.5"/>
<rect x="882.0" y="636.0" width="21.0" height="20.0" rx="0" fill="#fff" stroke="#000" stroke-width="0.8" />
<rect x="903.0" y="631.0" width="52.6" height="28.0" rx="0" fill="#555" stroke="#000" stroke-width="1" />
<rect x="905.4" y="633.4" width="47.4" height="23.2" rx="0" fill="#555" stroke="#000" stroke-width="0.9" />
<path d="M 905.4 633.4 L 946 636.4 L 950 656.6 M 946 636.4 L 952.8 634.4" fill="none" stroke="#000" stroke-width="0.7" />
<rect x="943.6" y="668.0" width="10.8" height="22.4" rx="0" fill="#fff" stroke="#000" stroke-width="1.15" />
<circle cx="950.4" cy="679.4" r="0.8" fill="#555" stroke="#000" stroke-width="0.5"/>
<path d="M 943.6 670 L 930 670 Q 915 670 915 679.4 Q 915 688.8 930 688.8 L 943.6 688.8 Z" fill="#fff" stroke="#000" stroke-width="1.15" />
<path d="M 941 672.4 L 930 671.8 Q 917.6 672 917.6 679.4 Q 917.6 686.8 930 687 L 941 686.4 Q 944 679.4 941 672.4 Z" fill="#fff" stroke="#000" stroke-width="0.7" />
<path d="M 919.4 676 Q 917.4 679.4 919.4 682.8 Q 921.4 679.4 919.4 676 Z" fill="#fff" stroke="#000" stroke-width="0.6" />
<path d="M 940.6 676 Q 937 679.4 940.6 682.8" fill="none" stroke="#000" stroke-width="0.6" />
<rect x="882.0" y="718.6" width="84.4" height="22.4" rx="0" fill="#fff" stroke="#000" stroke-width="1.15" />
<line x1="927.6" y1="718.6" x2="927.6" y2="741.0" stroke="#000" stroke-width="1.15" />
<rect x="890.0" y="720.0" width="31.0" height="18.0" rx="1.2" fill="#fff" stroke="#000" stroke-width="1.15" />
<circle cx="905.6" cy="732.0" r="1.1" fill="#000" stroke="#000" stroke-width="1.15"/>
<path d="M 904 738 L 904 740 M 907.4 738 L 907.4 740" fill="none" stroke="#000" stroke-width="0.6" />
<rect x="694.0" y="316.0" width="16.4" height="67.4" rx="0" fill="#fff" stroke="#000" stroke-width="1.15" />
<line x1="694.0" y1="316.0" x2="710.4" y2="383.4" stroke="#000" stroke-width="0.9" />
<line x1="710.4" y1="316.0" x2="694.0" y2="383.4" stroke="#000" stroke-width="0.9" />
<rect x="828.0" y="350.2" width="4.1" height="27.4" rx="1" fill="#fff" stroke="#000" stroke-width="1.15" />
<rect x="875.5" y="350.2" width="4.1" height="27.4" rx="1" fill="#fff" stroke="#000" stroke-width="1.15" />
<rect x="830.6" y="347.0" width="46.4" height="34.6" rx="3.2" fill="#fff" stroke="#000" stroke-width="1.15" />
<line x1="831.0" y1="375.6" x2="876.6" y2="375.6" stroke="#000" stroke-width="1.15" />
<circle cx="895.0" cy="366.4" r="11.6" fill="#fff" stroke="#000" stroke-width="1.15"/>
<rect x="911.0" y="349.2" width="4.1" height="27.4" rx="1" fill="#fff" stroke="#000" stroke-width="1.15" />
<rect x="941.9" y="349.2" width="4.1" height="27.4" rx="1" fill="#fff" stroke="#000" stroke-width="1.15" />
<rect x="913.6" y="346.0" width="29.8" height="34.6" rx="3.2" fill="#fff" stroke="#000" stroke-width="1.15" />
<line x1="914.0" y1="374.6" x2="943.0" y2="374.6" stroke="#000" stroke-width="1.15" />
<rect x="688.0" y="402.8" width="48.8" height="124.0" rx="4.5" fill="#fff" stroke="#000" stroke-width="1.15" />
<path d="M 696.8 410.8 L 719 410.8 Q 722.6 410.8 722.6 407.6 L 722.6 402.8 M 696.8 518.4 L 719 518.4 Q 722.6 518.4 722.6 521.6 L 722.6 526.8 M 696.8 410.8 L 696.8 518.4" fill="none" stroke="#000" stroke-width="1.15" />
<path d="M 699.6 410.8 L 699.6 518.4" fill="none" stroke="#000" stroke-width="1.15" />
<path d="M 696.8 444.8 L 734.6 444.8 Q 736.8 444.8 736.8 442.6 M 734.6 444.8 Q 736.8 444.8 736.8 447 M 696.8 484.2 L 734.6 484.2 Q 736.8 484.2 736.8 482 M 734.6 484.2 Q 736.8 484.2 736.8 486.4" fill="none" stroke="#000" stroke-width="1.15" />
<rect x="843.2" y="401.0" width="45.2" height="78.6" rx="0" fill="#fff" stroke="#000" stroke-width="1.15" />
<g transform="translate(829.2 419.6) rotate(0.0) scale(1 1)">
<circle cx="8.5" cy="-12.2" r="1.2" fill="#fff" stroke="#000" stroke-width="0.7"/><circle cx="8.5" cy="12.2" r="1.2" fill="#fff" stroke="#000" stroke-width="0.7"/>
<path d="M -10 -11.4 L 9.4 -11.4 Q 11.7 -11.4 11.7 -9 L 11.7 9 Q 11.7 11.4 9.4 11.4 L -10 11.4" fill="#fff" stroke="#000" stroke-width="1.1"/>
<path d="M -3.5 -16.2 A 16.5 16.5 0 0 0 -3.5 16.2 L -3.5 13.6 A 14.2 14.2 0 0 1 -3.5 -13.6 Z" fill="#fff" stroke="#000" stroke-width="0.8" stroke-linejoin="round"/>
<path d="M -3.5 -15.8 A 16.1 16.1 0 0 0 -3.5 15.8" fill="none" stroke="#000" stroke-width="2"/>
</g>
<g transform="translate(829.2 457.6) rotate(0.0) scale(1 1)">
<circle cx="8.5" cy="-12.2" r="1.2" fill="#fff" stroke="#000" stroke-width="0.7"/><circle cx="8.5" cy="12.2" r="1.2" fill="#fff" stroke="#000" stroke-width="0.7"/>
<path d="M -10 -11.4 L 9.4 -11.4 Q 11.7 -11.4 11.7 -9 L 11.7 9 Q 11.7 11.4 9.4 11.4 L -10 11.4" fill="#fff" stroke="#000" stroke-width="1.1"/>
<path d="M -3.5 -16.2 A 16.5 16.5 0 0 0 -3.5 16.2 L -3.5 13.6 A 14.2 14.2 0 0 1 -3.5 -13.6 Z" fill="#fff" stroke="#000" stroke-width="0.8" stroke-linejoin="round"/>
<path d="M -3.5 -15.8 A 16.1 16.1 0 0 0 -3.5 15.8" fill="none" stroke="#000" stroke-width="2"/>
</g>
<g transform="translate(901.8 419.6) rotate(0.0) scale(-1 1)">
<circle cx="8.5" cy="-12.2" r="1.2" fill="#fff" stroke="#000" stroke-width="0.7"/><circle cx="8.5" cy="12.2" r="1.2" fill="#fff" stroke="#000" stroke-width="0.7"/>
<path d="M -10 -11.4 L 9.4 -11.4 Q 11.7 -11.4 11.7 -9 L 11.7 9 Q 11.7 11.4 9.4 11.4 L -10 11.4" fill="#fff" stroke="#000" stroke-width="1.1"/>
<path d="M -3.5 -16.2 A 16.5 16.5 0 0 0 -3.5 16.2 L -3.5 13.6 A 14.2 14.2 0 0 1 -3.5 -13.6 Z" fill="#fff" stroke="#000" stroke-width="0.8" stroke-linejoin="round"/>
<path d="M -3.5 -15.8 A 16.1 16.1 0 0 0 -3.5 15.8" fill="none" stroke="#000" stroke-width="2"/>
</g>
<g transform="translate(902.6 460.8) rotate(-21.0) scale(-1 1)">
<circle cx="8.5" cy="-12.2" r="1.2" fill="#fff" stroke="#000" stroke-width="0.7"/><circle cx="8.5" cy="12.2" r="1.2" fill="#fff" stroke="#000" stroke-width="0.7"/>
<path d="M -10 -11.4 L 9.4 -11.4 Q 11.7 -11.4 11.7 -9 L 11.7 9 Q 11.7 11.4 9.4 11.4 L -10 11.4" fill="#fff" stroke="#000" stroke-width="1.1"/>
<path d="M -3.5 -16.2 A 16.5 16.5 0 0 0 -3.5 16.2 L -3.5 13.6 A 14.2 14.2 0 0 1 -3.5 -13.6 Z" fill="#fff" stroke="#000" stroke-width="0.8" stroke-linejoin="round"/>
<path d="M -3.5 -15.8 A 16.1 16.1 0 0 0 -3.5 15.8" fill="none" stroke="#000" stroke-width="2"/>
</g>
<circle cx="852.2" cy="424.4" r="6.1" fill="#fff" stroke="#333" stroke-width="1.9"/>
<circle cx="878.2" cy="423.8" r="6.1" fill="#fff" stroke="#333" stroke-width="1.9"/>
<circle cx="853.0" cy="458.0" r="6.1" fill="#fff" stroke="#333" stroke-width="1.9"/>
<circle cx="878.4" cy="460.8" r="6.1" fill="#fff" stroke="#333" stroke-width="1.9"/>
<circle cx="859.6" cy="418.6" r="1.9" fill="#fff" stroke="#111" stroke-width="1.2"/>
<line x1="861.2" y1="418.0" x2="863.2" y2="417.3" stroke="#000" stroke-width="1.1" />
<circle cx="878.2" cy="433.0" r="1.9" fill="#fff" stroke="#111" stroke-width="1.2"/>
<line x1="876.9" y1="434.1" x2="875.3" y2="435.4" stroke="#000" stroke-width="1.1" />
<circle cx="860.2" cy="452.0" r="1.9" fill="#fff" stroke="#111" stroke-width="1.2"/>
<line x1="861.8" y1="451.4" x2="863.8" y2="450.7" stroke="#000" stroke-width="1.1" />
<circle cx="869.6" cy="460.6" r="1.9" fill="#fff" stroke="#111" stroke-width="1.2"/>
<line x1="868.0" y1="460.0" x2="866.0" y2="459.3" stroke="#000" stroke-width="1.1" />
<rect x="932.4" y="401.0" width="34.0" height="229.6" rx="0" fill="#fff" stroke="#000" stroke-width="1.15" />
<rect x="958.0" y="414.4" width="3.6" height="49.6" rx="0" fill="#fff" stroke="#000" stroke-width="0.7" />
<circle cx="963.6" cy="439.4" r="1.6" fill="#fff" stroke="#000" stroke-width="0.7"/>
<rect x="934.4" y="491.0" width="28.6" height="32.6" rx="0" fill="#fff" stroke="#000" stroke-width="1.15" />
<circle cx="943.0" cy="500.0" r="4.4" fill="#fff" stroke="#000" stroke-width="1.15"/>
<circle cx="955.0" cy="500.0" r="5.0" fill="#fff" stroke="#000" stroke-width="1.15"/>
<circle cx="943.0" cy="513.6" r="3.6" fill="#fff" stroke="#000" stroke-width="1.15"/>
<circle cx="955.0" cy="513.6" r="4.2" fill="#fff" stroke="#000" stroke-width="1.15"/>
<line x1="932.4" y1="529.4" x2="966.4" y2="529.4" stroke="#000" stroke-width="1.15" />
<line x1="932.4" y1="563.4" x2="966.4" y2="563.4" stroke="#000" stroke-width="1.15" />
<line x1="932.4" y1="597.4" x2="966.4" y2="597.4" stroke="#000" stroke-width="1.15" />
<path d="M 948.6 541.4 Q 945 549 946 550.6 Q 948.6 553.6 951.2 550.6 Q 952.2 549 948.6 541.4 Z" fill="#fff" stroke="#000" stroke-width="0.8" />
<rect x="934.4" y="566.0" width="29.6" height="29.0" rx="3" fill="#fff" stroke="#000" stroke-width="1.15" />
<rect x="936.4" y="568.0" width="22.6" height="25.0" rx="2.6" fill="#fff" stroke="#000" stroke-width="0.6" />
<circle cx="954.2" cy="587.0" r="1.3" fill="#fff" stroke="#000" stroke-width="0.9"/>
<rect x="960.0" y="577.0" width="4.0" height="9.0" rx="0" fill="#ddd" stroke="#999" stroke-width="0.5" />
<line x1="949.0" y1="614.4" x2="958.0" y2="614.4" stroke="#000" stroke-width="1.3" />
<line x1="954.6" y1="614.4" x2="956.8" y2="611.8" stroke="#000" stroke-width="1.2" />
<line x1="954.6" y1="614.4" x2="956.8" y2="617.0" stroke="#000" stroke-width="1.2" />
<line x1="949.0" y1="614.4" x2="953.5" y2="622.2" stroke="#000" stroke-width="1.3" />
<line x1="951.8" y1="619.2" x2="955.1" y2="619.8" stroke="#000" stroke-width="1.2" />
<line x1="951.8" y1="619.2" x2="950.6" y2="622.4" stroke="#000" stroke-width="1.2" />
<line x1="949.0" y1="614.4" x2="944.5" y2="622.2" stroke="#000" stroke-width="1.3" />
<line x1="946.2" y1="619.2" x2="947.4" y2="622.4" stroke="#000" stroke-width="1.2" />
<line x1="946.2" y1="619.2" x2="942.9" y2="619.8" stroke="#000" stroke-width="1.2" />
<line x1="949.0" y1="614.4" x2="940.0" y2="614.4" stroke="#000" stroke-width="1.3" />
<line x1="943.4" y1="614.4" x2="941.2" y2="617.0" stroke="#000" stroke-width="1.2" />
<line x1="943.4" y1="614.4" x2="941.2" y2="611.8" stroke="#000" stroke-width="1.2" />
<line x1="949.0" y1="614.4" x2="944.5" y2="606.6" stroke="#000" stroke-width="1.3" />
<line x1="946.2" y1="609.6" x2="942.9" y2="609.0" stroke="#000" stroke-width="1.2" />
<line x1="946.2" y1="609.6" x2="947.4" y2="606.4" stroke="#000" stroke-width="1.2" />
<line x1="949.0" y1="614.4" x2="953.5" y2="606.6" stroke="#000" stroke-width="1.3" />
<line x1="951.8" y1="609.6" x2="950.6" y2="606.4" stroke="#000" stroke-width="1.2" />
<line x1="951.8" y1="609.6" x2="955.1" y2="609.0" stroke="#000" stroke-width="1.2" />
<rect x="830.8" y="546.4" width="50.8" height="84.6" rx="0" fill="#fff" stroke="#444" stroke-width="1.3" />
<circle cx="847.0" cy="564.6" r="3.8" fill="#fff" stroke="#000" stroke-width="1.8"/>
<circle cx="869.4" cy="573.8" r="5.8" fill="#fff" stroke="#3c3c3c" stroke-width="2.1"/>
<circle cx="845.8" cy="622.8" r="6.0" fill="#fff" stroke="#3c3c3c" stroke-width="2.1"/>
<circle cx="872.4" cy="617.4" r="5.8" fill="#fff" stroke="#3c3c3c" stroke-width="2.1"/>
<circle cx="856.0" cy="559.2" r="2.7" fill="#fff" stroke="#000" stroke-width="2.2"/>
<line x1="857.2" y1="556.4" x2="858.8" y2="554.2" stroke="#000" stroke-width="1.2" />
<circle cx="856.4" cy="615.8" r="2.7" fill="#fff" stroke="#000" stroke-width="2.2"/>
<line x1="857.6" y1="613.0" x2="859.2" y2="610.8" stroke="#000" stroke-width="1.2" />
<g transform="translate(858.6 589.6) rotate(31)"><rect x="-12" y="-2.6" width="24" height="5.2" rx="1" fill="#666" stroke="#000" stroke-width="1"/><rect x="-18.6" y="-1" width="6.6" height="2" rx="1" fill="#fff" stroke="#000" stroke-width="0.7"/><rect x="12" y="-1" width="6.6" height="2" rx="1" fill="#fff" stroke="#000" stroke-width="0.7"/><path d="M -10 -2.6 V 2.6 M -8 -2.6 V 2.6 M -6 -2.6 V 2.6 M -4 -2.6 V 2.6 M -2 -2.6 V 2.6 M 0 -2.6 V 2.6 M 2 -2.6 V 2.6 M 4 -2.6 V 2.6 M 6 -2.6 V 2.6 M 8 -2.6 V 2.6 M 10 -2.6 V 2.6" stroke="#000" stroke-width="0.6"/></g>
<rect x="64.3" y="594.5" width="4.5" height="26.7" rx="1" fill="#fff" stroke="#000" stroke-width="1.15" />
<rect x="111.2" y="594.5" width="4.5" height="26.7" rx="1" fill="#fff" stroke="#000" stroke-width="1.15" />
<rect x="67.3" y="591.3" width="45.4" height="33.9" rx="3.2" fill="#fff" stroke="#000" stroke-width="1.15" />
<line x1="67.7" y1="597.3" x2="112.3" y2="597.3" stroke="#000" stroke-width="1.15" />
<rect x="72.7" y="634.3" width="33.6" height="25.9" rx="2.6" fill="#fff" stroke="#000" stroke-width="1.15" />
<circle cx="88.7" cy="646.9" r="3.0" fill="#fff" stroke="#000" stroke-width="1.7"/>
<line x1="86.6" y1="649.4" x2="84.8" y2="651.6" stroke="#000" stroke-width="1.2" />
<circle cx="97.5" cy="639.2" r="1.8" fill="#fff" stroke="#000" stroke-width="0.9"/>
<line x1="99.0" y1="638.2" x2="101.0" y2="637.0" stroke="#000" stroke-width="0.9" />
<circle cx="79.3" cy="654.3" r="1.8" fill="#fff" stroke="#000" stroke-width="0.9"/>
<line x1="78.2" y1="655.8" x2="77.0" y2="657.4" stroke="#000" stroke-width="0.9" />
<g transform="translate(78.25 691.9) rotate(23.8)">
<rect x="-15.6" y="-12.2" width="4.1" height="23.7" rx="1" fill="#fff" stroke="#000" stroke-width="1.15" />
<rect x="11.5" y="-12.2" width="4.1" height="23.7" rx="1" fill="#fff" stroke="#000" stroke-width="1.15" />
<rect x="-13.0" y="-15.4" width="26.0" height="30.9" rx="3.2" fill="#fff" stroke="#000" stroke-width="1.15" />
<line x1="-12.6" y1="9.8" x2="12.6" y2="9.8" stroke="#000" stroke-width="1.15" />
</g>
<path d="M 135.0 608.0 L 140.2 608.3 L 146.4 609.7 L 143.0 610.0 L 145.1 611.7 L 139.8 610.0 Z M 135.0 608.0 L 139.6 610.5 L 144.6 614.6 L 141.5 613.4 L 142.5 615.8 L 138.5 611.9 Z M 135.0 608.0 L 137.4 613.0 L 139.1 619.5 L 137.2 616.5 L 136.6 619.2 L 135.6 613.5 Z M 135.0 608.0 L 135.3 613.4 L 134.4 620.0 L 133.8 616.6 L 132.2 618.8 L 133.4 613.2 Z M 135.0 608.0 L 132.6 611.9 L 128.9 616.0 L 130.1 613.4 L 127.9 614.2 L 131.5 610.9 Z M 135.0 608.0 L 130.7 610.4 L 124.9 612.3 L 127.5 610.4 L 125.0 610.0 L 130.1 608.8 Z M 135.0 608.0 L 130.2 607.9 L 124.5 606.7 L 127.5 606.4 L 125.7 604.9 L 130.5 606.3 Z M 135.0 608.0 L 131.0 605.7 L 126.6 602.0 L 129.3 603.2 L 128.4 601.0 L 131.9 604.5 Z M 135.0 608.0 L 132.4 604.0 L 130.2 598.5 L 132.1 600.9 L 132.3 598.5 L 133.9 603.3 Z M 135.0 608.0 L 135.0 603.4 L 136.1 597.7 L 136.5 600.7 L 137.9 598.9 L 136.6 603.6 Z M 135.0 608.0 L 137.5 603.3 L 141.6 598.1 L 140.4 601.3 L 142.9 600.2 L 139.0 604.4 Z M 135.0 608.0 L 139.4 605.4 L 145.4 603.2 L 142.8 605.3 L 145.4 605.6 L 140.1 607.0 Z " fill="#fff" stroke="#000" stroke-width="0.85" stroke-linejoin="miter"/>
<circle cx="135.0" cy="608.0" r="2.0" fill="#000" stroke="#000" stroke-width="0.5"/>
<rect x="53.6" y="724.0" width="55.8" height="17.0" rx="0" fill="#fff" stroke="#000" stroke-width="1.15" />
<polygon points="57.1,739.6 59.8,739.6 58.7,725.6 56.0,725.6" fill="#fff" stroke="#000" stroke-width="0.95" />
<polygon points="60.8,739.6 63.5,739.6 64.6,725.6 61.9,725.6" fill="#fff" stroke="#000" stroke-width="0.95" />
<polygon points="66.3,739.6 69.0,739.6 68.2,725.6 65.5,725.6" fill="#fff" stroke="#000" stroke-width="0.95" />
<polygon points="70.3,739.6 73.0,739.6 74.1,725.6 71.4,725.6" fill="#fff" stroke="#000" stroke-width="0.95" />
<polygon points="76.7,739.6 79.4,739.6 77.7,725.6 75.0,725.6" fill="#fff" stroke="#000" stroke-width="0.95" />
<polygon points="79.8,739.6 82.5,739.6 83.3,727.6 80.6,727.6" fill="#fff" stroke="#000" stroke-width="0.95" />
<polygon points="85.7,739.6 88.4,739.6 87.2,725.6 84.5,725.6" fill="#fff" stroke="#000" stroke-width="0.95" />
<polygon points="89.3,739.6 92.0,739.6 92.8,727.6 90.1,727.6" fill="#fff" stroke="#000" stroke-width="0.95" />
<rect x="109.4" y="724.0" width="89.2" height="16.6" rx="0" fill="#fff" stroke="#000" stroke-width="1.15" />
<line x1="109.4" y1="724.0" x2="198.6" y2="740.6" stroke="#000" stroke-width="0.9" />
<line x1="109.4" y1="740.6" x2="198.6" y2="724.0" stroke="#000" stroke-width="0.9" />
<rect x="198.6" y="673.4" width="17.0" height="67.2" rx="0" fill="#fff" stroke="#000" stroke-width="1.15" />
<line x1="198.6" y1="673.4" x2="215.6" y2="740.6" stroke="#000" stroke-width="0.9" />
<line x1="215.6" y1="673.4" x2="198.6" y2="740.6" stroke="#000" stroke-width="0.9" />
<polygon points="226.5,664.0 215.7,680.8 221.4,683.5" fill="#000" stroke="#000" stroke-width="0.3" />
<path d="M 136 782.6 L 175.6 782.6 L 188.6 752 M 193.3 741 L 215.4 689" fill="none" stroke="#aaa" stroke-width="0.7" />
<circle cx="104.4" cy="86.8" r="31.6" fill="#fff" stroke="#000" stroke-width="1.8"/>
<path d="M 61.2 70.5 A 46 46 0 0 0 146.9 103.4" fill="none" stroke="#000" stroke-width="1.8" />
<circle cx="61.2" cy="70.5" r="5.2" fill="#000" stroke="#000" stroke-width="1.15"/>
<circle cx="146.9" cy="103.4" r="4.4" fill="#fff" stroke="#000" stroke-width="1.5"/>
<path d="M 102.4 131.5 L 93.4 132.1 L 99.5 138.7 L 91.4 134.7 L 93.4 143.5 L 88.4 136.0 L 85.7 144.6 L 85.1 135.6 L 78.5 141.7 L 82.5 133.6 L 73.7 135.6 L 81.2 130.6 L 72.6 127.9 L 81.6 127.3 L 75.5 120.7 L 83.6 124.7 L 81.6 115.9 L 86.6 123.4 L 89.3 114.8 L 89.9 123.8 L 96.5 117.7 L 92.5 125.8 L 101.3 123.8 L 93.8 128.8 Z" fill="#fff" stroke="#000" stroke-width="1.2" />
<circle cx="87.5" cy="129.7" r="4.2" fill="#fff" stroke="#000" stroke-width="1.2"/>
<polygon points="106.3,49.0 122.6,38.0 128.4,57.5" fill="#000" stroke="#000" stroke-width="0.5" />
<path d="M 97.8 93.2 L 102.8 77.4 L 107.6 96.4 L 113 80.6" fill="none" stroke="#000" stroke-width="1.7" stroke-linejoin="round"/>
<g role="img" aria-label="13.5"><title>13.5</title><path transform="translate(489.20 416.00)" d="M 0 4.6 L 3.6 0 L 3.6 18.40" fill="none" stroke="#000" stroke-width="1.7" stroke-linejoin="round" stroke-linecap="square"/><path transform="translate(497.15 416.00)" d="M 0 0 L 4.2 0 A 3.7 3.9 0 0 1 7.70 3.9 L 7.70 4.7 A 3.7 3.9 0 0 1 4.2 8.6 L 1.9 8.6 M 4.2 8.6 A 3.7 4 0 0 1 7.70 12.6 L 7.70 14.50 A 3.9 3.9 0 0 1 4 18.40 L 0 18.40" fill="none" stroke="#000" stroke-width="1.7" stroke-linejoin="round" stroke-linecap="square"/><rect x="508.20" y="433.25" width="2" height="2" fill="#000"/><path transform="translate(513.75 416.00)" d="M 7 0 L 0.4 0 L 0.4 8 L 4 8 A 3.9 3.9 0 0 1 7.70 11.9 L 7.70 14.50 A 3.9 3.9 0 0 1 4 18.40 L 0 18.40" fill="none" stroke="#000" stroke-width="1.7" stroke-linejoin="round" stroke-linecap="square"/></g>
<g role="img" aria-label="5.7"><title>5.7</title><path transform="translate(774.90 349.50)" d="M 7 0 L 0.4 0 L 0.4 8 L 4 8 A 3.9 3.9 0 0 1 7.70 11.9 L 7.70 14.50 A 3.9 3.9 0 0 1 4 18.40 L 0 18.40" fill="none" stroke="#000" stroke-width="1.7" stroke-linejoin="round" stroke-linecap="square"/><rect x="785.95" y="366.75" width="2" height="2" fill="#000"/><path transform="translate(791.50 349.50)" d="M 0 2.8 L 0 0 L 7.70 0 L 3.9 18.40" fill="none" stroke="#000" stroke-width="1.7" stroke-linejoin="round" stroke-linecap="square"/></g>
<g role="img" aria-label="25.9"><title>25.9</title><path transform="translate(308.40 597.60)" d="M 0 3.9 A 3.85 3.9 0 0 1 7.70 3.9 Q 7.70 6.4 6.2 8.8 L 0.2 18.40 L 7.70 18.40" fill="none" stroke="#000" stroke-width="1.7" stroke-linejoin="round" stroke-linecap="square"/><path transform="translate(320.45 597.60)" d="M 7 0 L 0.4 0 L 0.4 8 L 4 8 A 3.9 3.9 0 0 1 7.70 11.9 L 7.70 14.50 A 3.9 3.9 0 0 1 4 18.40 L 0 18.40" fill="none" stroke="#000" stroke-width="1.7" stroke-linejoin="round" stroke-linecap="square"/><rect x="331.50" y="614.85" width="2" height="2" fill="#000"/><path transform="translate(337.05 597.60)" d="M 7.70 6.6 A 3.85 3.85 0 0 1 0 6.6 L 0 3.85 A 3.85 3.85 0 0 1 7.70 3.85 L 7.70 7 Q 7.70 10.5 6.2 13 L 2 18.40" fill="none" stroke="#000" stroke-width="1.7" stroke-linejoin="round" stroke-linecap="square"/></g>
<g role="img" aria-label="18.2"><title>18.2</title><path transform="translate(569.60 559.00)" d="M 0 4.6 L 3.6 0 L 3.6 18.40" fill="none" stroke="#000" stroke-width="1.7" stroke-linejoin="round" stroke-linecap="square"/><path transform="translate(577.55 559.00)" d="M 3.85 0 A 3.5 4.2 0 1 0 3.85 8.4 A 3.5 4.2 0 1 0 3.85 0 Z M 3.85 8.4 A 3.85 5 0 1 0 3.85 18.40 A 3.85 5 0 1 0 3.85 8.4 Z" fill="none" stroke="#000" stroke-width="1.7" stroke-linejoin="round" stroke-linecap="square"/><rect x="588.60" y="576.25" width="2" height="2" fill="#000"/><path transform="translate(594.15 559.00)" d="M 0 3.9 A 3.85 3.9 0 0 1 7.70 3.9 Q 7.70 6.4 6.2 8.8 L 0.2 18.40 L 7.70 18.40" fill="none" stroke="#000" stroke-width="1.7" stroke-linejoin="round" stroke-linecap="square"/></g>
<g role="img" aria-label="5.1"><title>5.1</title><path transform="translate(503.80 653.00)" d="M 7 0 L 0.4 0 L 0.4 8 L 4 8 A 3.9 3.9 0 0 1 7.70 11.9 L 7.70 14.50 A 3.9 3.9 0 0 1 4 18.40 L 0 18.40" fill="none" stroke="#000" stroke-width="1.7" stroke-linejoin="round" stroke-linecap="square"/><rect x="514.85" y="670.25" width="2" height="2" fill="#000"/><path transform="translate(520.40 653.00)" d="M 0 4.6 L 3.6 0 L 3.6 18.40" fill="none" stroke="#000" stroke-width="1.7" stroke-linejoin="round" stroke-linecap="square"/></g>
<g role="img" aria-label="20.7"><title>20.7</title><path transform="translate(783.00 563.60)" d="M 0 3.9 A 3.85 3.9 0 0 1 7.70 3.9 Q 7.70 6.4 6.2 8.8 L 0.2 18.40 L 7.70 18.40" fill="none" stroke="#000" stroke-width="1.7" stroke-linejoin="round" stroke-linecap="square"/><path transform="translate(795.05 563.60)" d="M 0 5.6 A 3.85 5.6 0 0 1 7.70 5.6 L 7.70 12.80 A 3.85 5.6 0 0 1 0 12.80 Z" fill="none" stroke="#000" stroke-width="1.7" stroke-linejoin="round" stroke-linecap="square"/><rect x="806.10" y="580.85" width="2" height="2" fill="#000"/><path transform="translate(811.65 563.60)" d="M 0 2.8 L 0 0 L 7.70 0 L 3.9 18.40" fill="none" stroke="#000" stroke-width="1.7" stroke-linejoin="round" stroke-linecap="square"/></g>
<g role="img" aria-label="2.3"><title>2.3</title><path transform="translate(895.80 694.00)" d="M 0 3.9 A 3.85 3.9 0 0 1 7.70 3.9 Q 7.70 6.4 6.2 8.8 L 0.2 18.40 L 7.70 18.40" fill="none" stroke="#000" stroke-width="1.7" stroke-linejoin="round" stroke-linecap="square"/><rect x="906.85" y="711.25" width="2" height="2" fill="#000"/><path transform="translate(912.40 694.00)" d="M 0 0 L 4.2 0 A 3.7 3.9 0 0 1 7.70 3.9 L 7.70 4.7 A 3.7 3.9 0 0 1 4.2 8.6 L 1.9 8.6 M 4.2 8.6 A 3.7 4 0 0 1 7.70 12.6 L 7.70 14.50 A 3.9 3.9 0 0 1 4 18.40 L 0 18.40" fill="none" stroke="#000" stroke-width="1.7" stroke-linejoin="round" stroke-linecap="square"/></g>
<g role="img" aria-label="7.8"><title>7.8</title><path transform="translate(143.80 665.00)" d="M 0 2.8 L 0 0 L 7.70 0 L 3.9 18.40" fill="none" stroke="#000" stroke-width="1.7" stroke-linejoin="round" stroke-linecap="square"/><rect x="154.85" y="682.25" width="2" height="2" fill="#000"/><path transform="translate(160.40 665.00)" d="M 3.85 0 A 3.5 4.2 0 1 0 3.85 8.4 A 3.5 4.2 0 1 0 3.85 0 Z M 3.85 8.4 A 3.85 5 0 1 0 3.85 18.40 A 3.85 5 0 1 0 3.85 8.4 Z" fill="none" stroke="#000" stroke-width="1.7" stroke-linejoin="round" stroke-linecap="square"/></g>
<g role="img" aria-label="Терраса"><title>Терраса</title><path transform="translate(81.25 527.10)" d="M 0 0 L 7.2 0 M 3.6 0 L 3.6 15.7" fill="none" stroke="#000" stroke-width="1.7" stroke-linejoin="round" stroke-linecap="square"/><path transform="translate(93.75 532.20)" d="M 0 5.5 L 6.2 5.5 L 6.2 2.8 Q 6.2 0 3.1 0 Q 0 0 0 2.8 L 0 7.8 Q 0 10.6 3.1 10.6 L 5.4 10.6" fill="none" stroke="#000" stroke-width="1.7" stroke-linejoin="round" stroke-linecap="square"/><path transform="translate(105.10 532.20)" d="M 0 15.9 L 0 0 L 2.9 0 Q 5.6 0 5.6 2.8 L 5.6 7.8 Q 5.6 10.6 2.9 10.6 L 0 10.6" fill="none" stroke="#000" stroke-width="1.7" stroke-linejoin="round" stroke-linecap="square"/><path transform="translate(116.70 532.20)" d="M 0 15.9 L 0 0 L 2.9 0 Q 5.6 0 5.6 2.8 L 5.6 7.8 Q 5.6 10.6 2.9 10.6 L 0 10.6" fill="none" stroke="#000" stroke-width="1.7" stroke-linejoin="round" stroke-linecap="square"/><path transform="translate(127.90 532.20)" d="M 5.7 10.6 L 5.7 0 L 2.85 0 Q 0 0 0 2.8 L 0 7.8 Q 0 10.6 2.85 10.6 L 7.2 10.6" fill="none" stroke="#000" stroke-width="1.7" stroke-linejoin="round" stroke-linecap="square"/><path transform="translate(140.70 532.20)" d="M 4.1 0 L 2.8 0 Q 0 0 0 2.8 L 0 7.8 Q 0 10.6 2.8 10.6 L 4.1 10.6" fill="none" stroke="#000" stroke-width="1.7" stroke-linejoin="round" stroke-linecap="square"/><path transform="translate(150.60 532.20)" d="M 5.7 10.6 L 5.7 0 L 2.85 0 Q 0 0 0 2.8 L 0 7.8 Q 0 10.6 2.85 10.6 L 7.2 10.6" fill="none" stroke="#000" stroke-width="1.7" stroke-linejoin="round" stroke-linecap="square"/></g>
<g role="img" aria-label="Окно в пол"><title>Окно в пол</title><path transform="translate(25.85 774.85)" d="M 0 4.6 A 3.9 4.6 0 0 1 7.8 4.6 L 7.8 11.1 A 3.9 4.6 0 0 1 0 11.1 Z" fill="none" stroke="#000" stroke-width="1.7" stroke-linejoin="round" stroke-linecap="square"/><path transform="translate(38.70 779.95)" d="M 0 0 L 0 10.6 M 5.5 0.2 L 0.4 5.9 M 1.7 4.6 L 5.7 10.4" fill="none" stroke="#000" stroke-width="1.7" stroke-linejoin="round" stroke-linecap="square"/><path transform="translate(50.15 779.95)" d="M 0 0 L 0 10.6 M 5.9 0 L 5.9 10.6 M 0 5 L 5.9 5" fill="none" stroke="#000" stroke-width="1.7" stroke-linejoin="round" stroke-linecap="square"/><path transform="translate(61.35 779.95)" d="M 0 2.8 Q 0 0 3.05 0 Q 6.1 0 6.1 2.8 L 6.1 7.8 Q 6.1 10.6 3.05 10.6 Q 0 10.6 0 7.8 Z" fill="none" stroke="#000" stroke-width="1.7" stroke-linejoin="round" stroke-linecap="square"/><path transform="translate(78.45 774.85)" d="M 0.9 7 Q 1.7 6.3 3.1 6.3 Q 6.2 6.3 6.2 9 L 6.2 13 Q 6.2 15.7 3.1 15.7 Q 0 15.7 0 13 L 0 2.6 Q 0 0 2.7 0 Q 5.4 0 5.4 2.4 Q 5.4 4.6 1.4 6.6" fill="none" stroke="#000" stroke-width="1.7" stroke-linejoin="round" stroke-linecap="square"/><path transform="translate(95.85 779.95)" d="M 0 10.6 L 0 0 L 5.9 0 L 5.9 10.6" fill="none" stroke="#000" stroke-width="1.7" stroke-linejoin="round" stroke-linecap="square"/><path transform="translate(107.05 779.95)" d="M 0 2.8 Q 0 0 3.05 0 Q 6.1 0 6.1 2.8 L 6.1 7.8 Q 6.1 10.6 3.05 10.6 Q 0 10.6 0 7.8 Z" fill="none" stroke="#000" stroke-width="1.7" stroke-linejoin="round" stroke-linecap="square"/><path transform="translate(118.50 779.95)" d="M 0.2 10.4 L 3.5 0 L 5.6 0 L 5.6 10.6" fill="none" stroke="#000" stroke-width="1.7" stroke-linejoin="round" stroke-linecap="square"/></g>
</svg></body></html>
